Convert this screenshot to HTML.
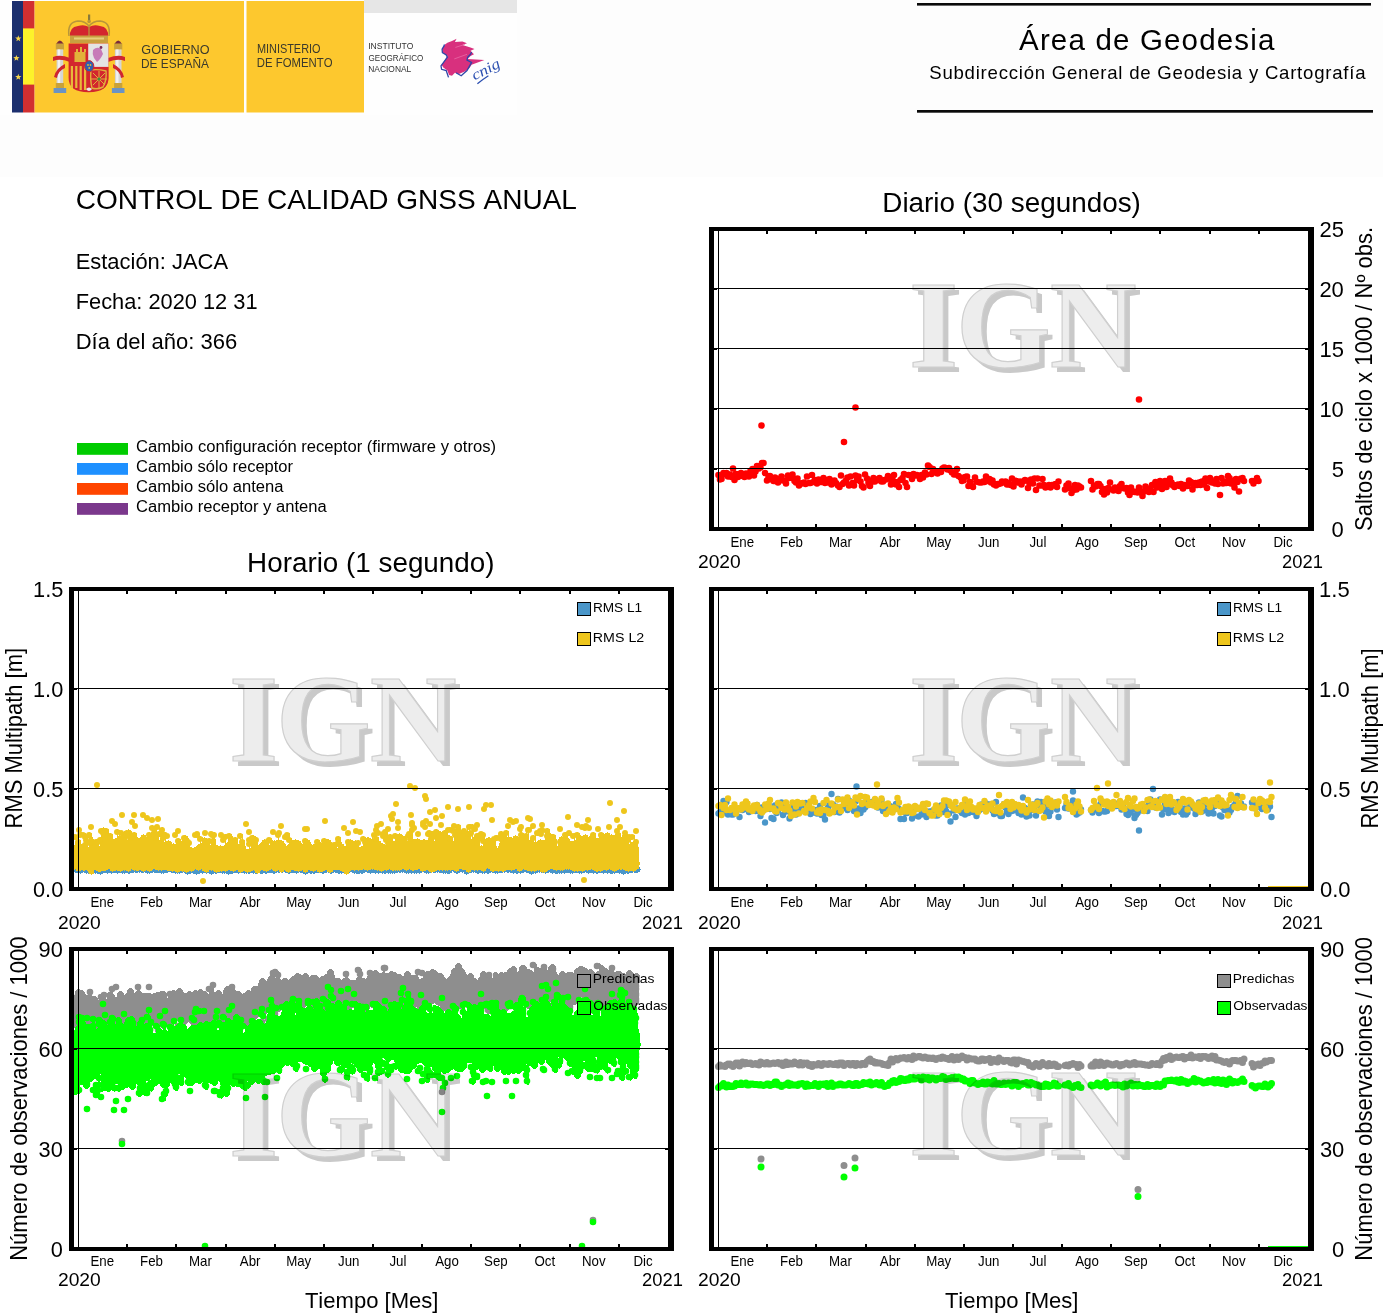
<!DOCTYPE html>
<html><head><meta charset="utf-8"><title>Control de calidad GNSS anual - JACA</title>
<style>
html,body{margin:0;padding:0;background:#fff;}
body{width:1383px;height:1313px;overflow:hidden;position:relative;}
svg{position:absolute;left:0;top:0;display:block;}
text{font-family:"Liberation Sans",Arial,sans-serif;font-kerning:none;}
.wm{mix-blend-mode:multiply;}
.wm text{font-family:"Liberation Serif","Times New Roman",serif;font-weight:bold;}
.cn{font-family:"Liberation Serif",serif;font-style:italic;}
</style></head><body>
<svg width="1383" height="1313" viewBox="0 0 1383 1313">
<rect width="1383" height="1313" fill="#fff"/>
<rect x="0" y="0" width="1383" height="177" fill="#fdfdfd"/>
<rect x="0" y="0" width="517" height="115" fill="#fefefe"/>
<rect x="364" y="0" width="153" height="13" fill="#e6e6e6"/>
<rect x="12" y="1" width="11" height="111.5" fill="#1c2f6e"/>
<rect x="23" y="1" width="11.6" height="111.5" fill="#d22f30"/>
<rect x="23" y="28.4" width="11.6" height="56.2" fill="#fdf22a"/>
<rect x="34.6" y="1" width="209.4" height="111.5" fill="#fdc82e"/>
<rect x="246.5" y="1" width="117.5" height="111.5" fill="#fdc82e"/>
<polygon points="18.30,35.30 19.11,37.48 21.44,37.58 19.62,39.03 20.24,41.27 18.30,39.99 16.36,41.27 16.98,39.03 15.16,37.58 17.49,37.48" fill="#f6d54a"/>
<polygon points="16.40,54.90 17.21,57.08 19.54,57.18 17.72,58.63 18.34,60.87 16.40,59.59 14.46,60.87 15.08,58.63 13.26,57.18 15.59,57.08" fill="#f6d54a"/>
<polygon points="18.30,73.70 19.11,75.88 21.44,75.98 19.62,77.43 20.24,79.67 18.30,78.39 16.36,79.67 16.98,77.43 15.16,75.98 17.49,75.88" fill="#f6d54a"/>
<path d="M56.1 44 Q59.9 37 63.7 44 Z" fill="#7a2a3a"/>
<rect x="55.800000000000004" y="43.5" width="8.2" height="6" fill="#c9a13a"/>
<rect x="56.6" y="49.5" width="6.6" height="34" fill="#d5d5d5"/>
<rect x="57.800000000000004" y="49.5" width="2.4" height="34" fill="#f1f1f1"/>
<rect x="55.800000000000004" y="83" width="8.2" height="5" fill="#c9a13a"/>
<rect x="53.6" y="88" width="12.6" height="5" fill="#6b93c4"/>
<path d="M114.4 44 Q118.2 37 122.0 44 Z" fill="#7a2a3a"/>
<rect x="114.10000000000001" y="43.5" width="8.2" height="6" fill="#c9a13a"/>
<rect x="114.9" y="49.5" width="6.6" height="34" fill="#d5d5d5"/>
<rect x="116.10000000000001" y="49.5" width="2.4" height="34" fill="#f1f1f1"/>
<rect x="114.10000000000001" y="83" width="8.2" height="5" fill="#c9a13a"/>
<rect x="111.9" y="88" width="12.6" height="5" fill="#6b93c4"/>
<path d="M53 57 Q60 54 70 58 L70 62 Q60 58 53 61 Z" fill="#cf2630"/>
<path d="M108 58 Q118 54 125 57 L125 61 Q118 58 108 62 Z" fill="#cf2630"/>
<path d="M54 77 Q56 68 65 64 L65 68 Q58 71 57 78 Z" fill="#cf2630"/>
<path d="M124 77 Q122 68 113 64 L113 68 Q120 71 121 78 Z" fill="#cf2630"/>
<path d="M70 37 Q69 27 78 26 Q84 24 89 27 Q94 24 100 26 Q109 27 108 37 Z" fill="#d3262e"/>
<path d="M69 36 Q67 22 78 21 Q85 21 89 26 Q93 21 100 21 Q111 22 109 36" fill="none" stroke="#b8963a" stroke-width="1.5"/>
<path d="M89 26 V36" stroke="#b8963a" stroke-width="1.3"/>
<rect x="70" y="35.5" width="38" height="7.5" fill="#c8a040"/>
<rect x="74" y="37.5" width="30" height="2" fill="#e7cf7a"/>
<rect x="88" y="14.5" width="2.2" height="7" fill="#8a7a3a"/>
<circle cx="89.1" cy="21.5" r="1.8" fill="#b8963a"/>
<path d="M68.6 43.6 H108.4 V78 Q108.4 92.2 88.5 92.2 Q68.6 92.2 68.6 78 Z" fill="#d3262e"/>
<rect x="88.2" y="43.6" width="20.2" height="23.3" fill="#e4e4e4"/>
<path d="M93 50 Q97 46 101 49 L103 54 Q100 60 97 62 L94 58 Q92 54 93 50 Z" fill="#c77ab8"/>
<circle cx="101" cy="47.5" r="1.4" fill="#7a2a5a"/>
<path d="M74.5 62 V52 H76 V49 H78 V52 H80 V47 H82 V52 H84 V49 H86 V52 H85.5 V62 Z" fill="#e2b13a"/>
<rect x="70.8" y="66" width="2.2" height="22" fill="#e8b83a"/>
<rect x="75.2" y="66" width="2.2" height="22" fill="#e8b83a"/>
<rect x="79.6" y="66" width="2.2" height="24" fill="#e8b83a"/>
<rect x="84.0" y="66" width="2.2" height="24" fill="#e8b83a"/>
<path d="M88.2 67 H108.4 V78 Q108.4 91 90 91.5 Z" fill="#d3262e"/>
<path d="M91 70 Q98 69 106 71 Q107 80 103 87 Q97 90 92 88 Q90 80 91 70 Z" fill="none" stroke="#e0b03c" stroke-width="1.4"/>
<path d="M93 73 L105 85 M105 73 L93 85 M99 71 V88 M91 79 H107" stroke="#e0b03c" stroke-width="1"/>
<circle cx="99" cy="79" r="1.5" fill="#3a9a3a"/>
<ellipse cx="89.2" cy="66.2" rx="4.6" ry="5.6" fill="#2f5fae" stroke="#d3262e" stroke-width="1"/>
<circle cx="88" cy="65" r="0.9" fill="#e4b63a"/><circle cx="90.5" cy="65" r="0.9" fill="#e4b63a"/><circle cx="89.2" cy="68" r="0.9" fill="#e4b63a"/>
<path d="M86 89 Q89 86 92 89 Q89 93 86 89 Z" fill="#e8e8e8"/>
<g fill="#3b3a2c" font-family="Liberation Sans" letter-spacing="0">
<text x="141.36" y="54.00" font-size="12.8" textLength="68.24" lengthAdjust="spacingAndGlyphs">GOBIERNO</text>
<text x="141.03" y="67.70" font-size="12.8" textLength="68.00" lengthAdjust="spacingAndGlyphs">DE ESPAÑA</text>
<text x="256.91" y="53.00" font-size="12.8" textLength="63.62" lengthAdjust="spacingAndGlyphs">MINISTERIO</text>
<text x="256.87" y="67.40" font-size="12.8" textLength="75.67" lengthAdjust="spacingAndGlyphs">DE FOMENTO</text>
</g>
<g fill="#333" font-family="Liberation Sans">
<text x="368.21" y="49.00" font-size="9.2" textLength="45.20" lengthAdjust="spacingAndGlyphs">INSTITUTO</text>
<text x="368.59" y="60.70" font-size="9.2" textLength="54.79" lengthAdjust="spacingAndGlyphs">GEOGRÁFICO</text>
<text x="368.31" y="71.90" font-size="9.2" textLength="42.97" lengthAdjust="spacingAndGlyphs">NACIONAL</text>
</g>
<polygon points="445.0,44.5 447.4,42.7 452.0,41.0 456.6,38.7 454.9,42.1 462.4,41.6 467.0,43.3 462.4,45.0 470.5,47.4 474.5,49.1 470.5,50.8 474.0,54.3 470.5,56.0 467.6,58.9 484.4,60.1 471.6,64.7 469.3,68.2 464.7,71.6 458.9,74.0 454.9,72.8 452.0,75.7 449.1,75.1 447.4,70.5 443.3,67.6 441.6,64.7 445.0,60.1 447.4,56.0 443.3,53.1 442.1,49.1 443.9,46.2" fill="#d8307e"/>
<polyline points="455.4,47.4 464.7,44.5" fill="none" stroke="#e86aa6" stroke-width="0.8"/>
<polyline points="454.3,58.9 467.0,54.3" fill="none" stroke="#e86aa6" stroke-width="0.8"/>
<polyline points="444.5,44.5 443.9,46.2 442.1,49.1 442.4,52.6 446.2,54.9 447.4,57.2 444.5,61.2 441.0,65.9 441.6,69.3 446.2,70.5 447.4,74.0 448.5,77.4" fill="none" stroke="#2f45a8" stroke-width="1.3"/>
<polyline points="456.0,72.8 461.2,75.7 467.0,70.5 471.6,62.4 467.0,60.1 467.6,57.2 470.5,54.3 471.6,52.0" fill="none" stroke="#2f45a8" stroke-width="1.3"/>
<text class="cn" x="0" y="0" font-size="15" fill="#2b4fb0" transform="translate(474.5 80.5) rotate(-27)" textLength="30" lengthAdjust="spacingAndGlyphs">cnig</text>
<path d="M477.4 83.8 Q482.1 79.7 488.4 75.7" stroke="#2b4fb0" stroke-width="1.3" fill="none"/>
<rect x="917" y="3" width="454" height="2.6" fill="#0a0a0a"/>
<rect x="917" y="110" width="456" height="2.7" fill="#0a0a0a"/>
<text x="1019.04" y="49.90" font-size="29.5" textLength="255.36" lengthAdjust="spacing">Área de Geodesia</text>
<text x="929.26" y="78.80" font-size="18.6" textLength="436.24" lengthAdjust="spacing">Subdirección General de Geodesia y Cartografía</text>
<g font-family="Liberation Sans" fill="#000">
<text x="75.68" y="209.10" font-size="28.5" textLength="501.25" lengthAdjust="spacingAndGlyphs">CONTROL DE CALIDAD GNSS ANUAL</text>
<text x="75.70" y="268.50" font-size="21.2" textLength="152.34" lengthAdjust="spacingAndGlyphs">Estación: JACA</text>
<text x="75.71" y="308.60" font-size="21.2" textLength="181.85" lengthAdjust="spacingAndGlyphs">Fecha: 2020 12 31</text>
<text x="75.69" y="348.80" font-size="21.2" textLength="161.57" lengthAdjust="spacingAndGlyphs">Día del año: 366</text>
<rect x="77" y="443" width="51" height="11.8" fill="#00cc00"/>
<text x="136.06" y="451.60" font-size="15.6" textLength="359.97" lengthAdjust="spacingAndGlyphs">Cambio configuración receptor (firmware y otros)</text>
<rect x="77" y="463" width="51" height="11.8" fill="#1e90ff"/>
<text x="136.06" y="471.60" font-size="15.6" textLength="157.01" lengthAdjust="spacingAndGlyphs">Cambio sólo receptor</text>
<rect x="77" y="483" width="51" height="11.8" fill="#ff4500"/>
<text x="136.06" y="491.60" font-size="15.6" textLength="147.44" lengthAdjust="spacingAndGlyphs">Cambio sólo antena</text>
<rect x="77" y="503" width="51" height="11.8" fill="#7b388c"/>
<text x="136.06" y="511.60" font-size="15.6" textLength="190.64" lengthAdjust="spacingAndGlyphs">Cambio receptor y antena</text>
</g>
<path d="M718.5 475h0M720 479.5h0M721.5 479h0M723.5 473h0M725 474h0M726.5 473h0M728 476.5h0M730 474.5h0M731.5 477h0M733 468.5h0M734.5 480h0M736 474h0M738 477h0M739.5 474h0M741 473h0M742.5 476h0M744.5 477h0M746 473.5h0M747.5 473.5h0M749 476.5h0M750.5 471h0M752.5 469h0M754 475.5h0M755.5 471.5h0M757 466h0M759 468.5h0M760.5 467.5h0M762 463h0M763.5 463h0M765 473h0M767 480.5h0M768.5 477.5h0M770 476h0M771.5 479.5h0M773.5 481h0M775 477.5h0M776.5 480.5h0M778 482.5h0M780 478.5h0M781.5 476.5h0M783 480.5h0M784.5 480.5h0M786 483.5h0M788 475.5h0M789.5 478h0M791 477.5h0M792.5 474.5h0M794.5 481h0M796 482.5h0M797.5 478.5h0M799 485.5h0M800.5 484h0M802.5 483h0M804 482.5h0M805.5 484h0M807 476.5h0M809 483h0M810.5 483h0M812 475h0M813.5 482h0M815 480h0M817 483.5h0M818.5 479.5h0M820 481h0M821.5 482h0M823.5 478h0M825 483h0M826.5 480.5h0M828 482.5h0M829.5 479h0M831.5 484.5h0M833 483h0M834.5 480.5h0M836 483h0M838 485.5h0M839.5 487h0M841 475.5h0M842.5 484h0M844 482.5h0M846 480.5h0M847.5 477.5h0M849 485.5h0M850.5 476.5h0M852.5 483h0M854 485.5h0M855.5 475.5h0M857 480h0M858.5 476.5h0M860.5 481.5h0M862 486h0M863.5 487.5h0M865 474.5h0M867 478.5h0M868.5 483h0M870 486h0M871.5 482h0M873.5 478h0M875 481.5h0M876.5 480.5h0M878 479.5h0M879.5 478h0M881.5 481.5h0M883 481.5h0M884.5 480h0M886 479.5h0M888 476h0M889.5 478.5h0M891 484.5h0M892.5 479.5h0M894 475h0M896 484.5h0M897.5 482h0M899 487h0M900.5 480h0M902.5 478h0M904 474h0M905.5 483h0M907 487h0M908.5 475h0M910.5 475.5h0M912 479h0M913.5 474h0M915 475.5h0M917 475h0M918.5 476h0M920 479h0M921.5 475h0M923 477.5h0M925 472.5h0M926.5 474.5h0M928 465.5h0M929.5 467h0M931.5 474h0M933 469h0M934.5 472h0M936 471.5h0M937.5 473.5h0M939.5 471h0M941 472h0M942.5 468.5h0M944 467.5h0M946 468h0M947.5 469.5h0M949 468h0M950.5 470.5h0M952 472.5h0M954 474.5h0M955.5 473.5h0M957 469h0M958.5 476h0M960.5 477.5h0M962 481h0M963.5 480.5h0M965 477h0M967 476.5h0M968.5 486h0M970 482h0M971.5 486h0M973 487h0M975 477.5h0M976.5 481.5h0M978 482h0M979.5 482.5h0M981.5 482.5h0M983 481.5h0M984.5 482h0M986 476.5h0M987.5 481h0M989.5 479h0M991 482.5h0M992.5 480.5h0M994 484.5h0M996 485.5h0M997.5 484h0M999 484h0M1000.5 483.5h0M1002 481.5h0M1004 482.5h0M1005.5 481.5h0M1007 484.5h0M1008.5 483h0M1010.5 485h0M1012 478.5h0M1013.5 486.5h0M1015 480.5h0M1016.5 481h0M1018.5 482.5h0M1020 481.5h0M1021.5 484.5h0M1023 481.5h0M1025 480h0M1026.5 480.5h0M1028 488h0M1029.5 483.5h0M1031 479.5h0M1033 483.5h0M1034.5 478.5h0M1036 490h0M1037.5 478.5h0M1039.5 485.5h0M1041 485.5h0M1042.5 479h0M1044 485h0M1045.5 487.5h0M1047.5 485.5h0M1049 485h0M1050.5 487.5h0M1052 485h0M1054 485.5h0M1055.5 484h0M1057 487h0M1058.5 481.5h0M1065 489.5h0M1066.5 485.5h0M1068.5 483.5h0M1070 488h0M1071.5 493h0M1073 490.5h0M1075 485h0M1076.5 489.5h0M1078 485.5h0M1079.5 486.5h0M1081 487.5h0M1091 481h0M1092.5 489.5h0M1094 485.5h0M1095.5 486.5h0M1097.5 484h0M1099 484h0M1100.5 486h0M1102 492h0M1104 494.5h0M1105.5 489h0M1107 492.5h0M1108.5 488h0M1110 482.5h0M1112 489.5h0M1113.5 490.5h0M1115 487.5h0M1116.5 490h0M1118.5 491h0M1120 486h0M1121.5 484h0M1123 488h0M1124.5 488.5h0M1126.5 488h0M1128 492.5h0M1129.5 495h0M1131 487.5h0M1133 491.5h0M1134.5 492h0M1136 491.5h0M1137.5 492.5h0M1139 487.5h0M1141 491.5h0M1142.5 496h0M1144 491.5h0M1145.5 486.5h0M1147.5 490.5h0M1149 492h0M1150.5 489h0M1152 485h0M1153.5 492h0M1155.5 482h0M1157 487.5h0M1158.5 485.5h0M1160 481h0M1162 489h0M1163.5 486h0M1165 481h0M1166.5 487h0M1168.5 483.5h0M1170 478.5h0M1171.5 482.5h0M1173 485.5h0M1174.5 487h0M1176.5 485h0M1178 484.5h0M1179.5 486h0M1181 484h0M1183 488.5h0M1184.5 485h0M1186 485.5h0M1187.5 486h0M1189 480.5h0M1191 482h0M1192.5 489.5h0M1194 485.5h0M1195.5 483h0M1197.5 485h0M1199 482.5h0M1200.5 485h0M1202 481.5h0M1203.5 484.5h0M1205.5 478.5h0M1207 488h0M1208.5 481.5h0M1210 478h0M1212 482.5h0M1213.5 482h0M1215 483.5h0M1216.5 479h0M1218 484h0M1220 495h0M1221.5 478h0M1223 483.5h0M1224.5 481.5h0M1226.5 483h0M1228 476h0M1229.5 478h0M1231 483.5h0M1232.5 481.5h0M1234.5 487.5h0M1236 479h0M1237.5 482h0M1239 491.5h0M1241 478.5h0M1242.5 478h0M1244 481h0M1252 481h0M1253.5 483.5h0M1255.5 481h0M1257 478h0M1258.5 481h0M761.5 425.5h0M844 442h0M855.5 407.5h0M1139 399.5h0" stroke="#ff0000" stroke-width="6.6" stroke-linecap="round" fill="none"/>
<g class="wm">
<text x="913.71" y="372.36" font-size="125" textLength="49.59" lengthAdjust="spacingAndGlyphs" fill="#c9c9c9">I</text>
<text x="961.05" y="372.36" font-size="125" textLength="94.78" lengthAdjust="spacingAndGlyphs" fill="#c9c9c9">G</text>
<text x="1054.71" y="372.36" font-size="125" textLength="86.88" lengthAdjust="spacingAndGlyphs" fill="#c9c9c9">N</text>
<text x="908.71" y="367.36" font-size="125" textLength="49.59" lengthAdjust="spacingAndGlyphs" fill="#ededed" stroke="#cfcfcf" stroke-width="1.2">I</text>
<text x="956.05" y="367.36" font-size="125" textLength="94.78" lengthAdjust="spacingAndGlyphs" fill="#ededed" stroke="#cfcfcf" stroke-width="1.2">G</text>
<text x="1049.71" y="367.36" font-size="125" textLength="86.88" lengthAdjust="spacingAndGlyphs" fill="#ededed" stroke="#cfcfcf" stroke-width="1.2">N</text>
</g>
<rect x="718" y="231" width="1" height="296" fill="#000"/>
<rect x="714" y="288" width="594" height="1" fill="#000"/>
<rect x="714" y="288" width="3" height="2" fill="#000"/>
<rect x="1305" y="288" width="3" height="2" fill="#000"/>
<rect x="714" y="348" width="594" height="1" fill="#000"/>
<rect x="714" y="348" width="3" height="2" fill="#000"/>
<rect x="1305" y="348" width="3" height="2" fill="#000"/>
<rect x="714" y="408" width="594" height="1" fill="#000"/>
<rect x="714" y="408" width="3" height="2" fill="#000"/>
<rect x="1305" y="408" width="3" height="2" fill="#000"/>
<rect x="714" y="468" width="594" height="1" fill="#000"/>
<rect x="714" y="468" width="3" height="2" fill="#000"/>
<rect x="1305" y="468" width="3" height="2" fill="#000"/>
<rect x="766" y="524" width="2" height="3" fill="#000"/>
<rect x="766" y="231" width="2" height="3" fill="#000"/>
<rect x="815" y="524" width="2" height="3" fill="#000"/>
<rect x="815" y="231" width="2" height="3" fill="#000"/>
<rect x="865" y="524" width="2" height="3" fill="#000"/>
<rect x="865" y="231" width="2" height="3" fill="#000"/>
<rect x="914" y="524" width="2" height="3" fill="#000"/>
<rect x="914" y="231" width="2" height="3" fill="#000"/>
<rect x="963" y="524" width="2" height="3" fill="#000"/>
<rect x="963" y="231" width="2" height="3" fill="#000"/>
<rect x="1012" y="524" width="2" height="3" fill="#000"/>
<rect x="1012" y="231" width="2" height="3" fill="#000"/>
<rect x="1061" y="524" width="2" height="3" fill="#000"/>
<rect x="1061" y="231" width="2" height="3" fill="#000"/>
<rect x="1110" y="524" width="2" height="3" fill="#000"/>
<rect x="1110" y="231" width="2" height="3" fill="#000"/>
<rect x="1159" y="524" width="2" height="3" fill="#000"/>
<rect x="1159" y="231" width="2" height="3" fill="#000"/>
<rect x="1209" y="524" width="2" height="3" fill="#000"/>
<rect x="1209" y="231" width="2" height="3" fill="#000"/>
<rect x="1258" y="524" width="2" height="3" fill="#000"/>
<rect x="1258" y="231" width="2" height="3" fill="#000"/>
<rect x="709" y="227" width="5" height="304" fill="#000"/>
<rect x="709" y="227" width="605" height="4" fill="#000"/>
<rect x="1308" y="227" width="6" height="304" fill="#000"/>
<rect x="709" y="527" width="605" height="4" fill="#000"/>
<g font-family="Liberation Sans">
<text x="730.50" y="547.00" font-size="14.3" textLength="23.66" lengthAdjust="spacingAndGlyphs">Ene</text>
<text x="780.03" y="547.00" font-size="14.3" textLength="22.92" lengthAdjust="spacingAndGlyphs">Feb</text>
<text x="829.03" y="547.00" font-size="14.3" textLength="22.90" lengthAdjust="spacingAndGlyphs">Mar</text>
<text x="879.83" y="547.00" font-size="14.3" textLength="20.70" lengthAdjust="spacingAndGlyphs">Abr</text>
<text x="926.16" y="547.00" font-size="14.3" textLength="25.12" lengthAdjust="spacingAndGlyphs">May</text>
<text x="978.02" y="547.00" font-size="14.3" textLength="21.44" lengthAdjust="spacingAndGlyphs">Jun</text>
<text x="1029.42" y="547.00" font-size="14.3" textLength="17.00" lengthAdjust="spacingAndGlyphs">Jul</text>
<text x="1075.18" y="547.00" font-size="14.3" textLength="23.66" lengthAdjust="spacingAndGlyphs">Ago</text>
<text x="1124.06" y="547.00" font-size="14.3" textLength="23.66" lengthAdjust="spacingAndGlyphs">Sep</text>
<text x="1174.47" y="547.00" font-size="14.3" textLength="20.69" lengthAdjust="spacingAndGlyphs">Oct</text>
<text x="1221.90" y="547.00" font-size="14.3" textLength="23.65" lengthAdjust="spacingAndGlyphs">Nov</text>
<text x="1273.44" y="547.00" font-size="14.3" textLength="19.21" lengthAdjust="spacingAndGlyphs">Dic</text>
<text x="697.93" y="567.60" font-size="19.2" textLength="42.82" lengthAdjust="spacingAndGlyphs">2020</text>
<text x="1282.08" y="567.60" font-size="19.2" textLength="40.82" lengthAdjust="spacingAndGlyphs">2021</text>
</g>
<g font-family="Liberation Sans">
<text x="1319.45" y="236.70" font-size="22" textLength="24.47" lengthAdjust="spacingAndGlyphs">25</text>
<text x="1319.39" y="296.70" font-size="22" textLength="24.47" lengthAdjust="spacingAndGlyphs">20</text>
<text x="1319.45" y="356.70" font-size="22" textLength="24.47" lengthAdjust="spacingAndGlyphs">15</text>
<text x="1319.39" y="416.70" font-size="22" textLength="24.47" lengthAdjust="spacingAndGlyphs">10</text>
<text x="1331.69" y="476.70" font-size="22" textLength="12.24" lengthAdjust="spacingAndGlyphs">5</text>
<text x="1331.62" y="536.70" font-size="22" textLength="12.24" lengthAdjust="spacingAndGlyphs">0</text>
</g>
<text x="882.31" y="211.80" font-size="27" textLength="258.61" lengthAdjust="spacingAndGlyphs">Diario (30 segundos)</text>
<g transform="translate(1372.00,530.00) rotate(-90)"><text x="-1.00" y="0.00" font-size="23.2" textLength="304.21" lengthAdjust="spacingAndGlyphs">Saltos de ciclo x 1000 / Nº obs.</text></g>
<path d="M74 855V855H75V856H76V856H77V858H78V858H79V857H80V855H81V855H82V847H83V855H84V848H85V853H86V852H87V859H88V853H89V857H90V857H91V856H92V855H93V855H94V854H95V854H96V855H97V855H98V860H99V860H100V859H101V859H102V858H103V858H104V857H105V858H106V857H107V858H108V858H109V859H110V857H111V857H112V856H113V857H114V857H115V859H116V859H117V857H118V857H119V856H120V856H121V856H122V855H123V856H124V856H125V857H126V857H127V856H128V855H129V855H130V854H131V855H132V855H133V856H134V855H135V856H136V856H137V856H138V855H139V856H140V856H141V857H142V856H143V857H144V857H145V858H146V858H147V858H148V858H149V857H150V858H151V858H152V859H153V858H154V858H155V859H156V857H157V857H158V856H159V857H160V857H161V859H162V860H163V859H164V857H165V857H166V856H167V857H168V857H169V856H170V856H171V855H172V856H173V856H174V857H175V857H176V857H177V858H178V858H179V858H180V857H181V857H182V856H183V857H184V857H185V858H186V858H187V857H188V857H189V856H190V857H191V857H192V859H193V858H194V859H195V859H196V858H197V859H198V858H199V856H200V856H201V855H202V856H203V856H204V858H205V857H206V857H207V855H208V855H209V854H210V855H211V855H212V860H213V859H214V860H215V859H216V859H217V858H218V857H219V857H220V856H221V857H222V857H223V859H224V853H225V853H226V852H227V853H228V853H229V855H230V856H231V856H232V857H233V857H234V859H235V861H236V859H237V859H238V858H239V852H240V851H241V852H242V852H243V854H244V858H245V857H246V858H247V858H248V859H249V855H250V855H251V854H252V855H253V855H254V855H255V856H256V856H257V858H258V857H259V858H260V858H261V853H262V853H263V852H264V853H265V853H266V858H267V859H268V860H269V859H270V859H271V858H272V859H273V859H274V858H275V859H276V858H277V858H278V857H279V858H280V858H281V858H282V857H283V857H284V856H285V856H286V855H287V856H288V856H289V858H290V857H291V858H292V857H293V857H294V856H295V855H296V853H297V853H298V852H299V853H300V859H301V854H302V854H303V853H304V854H305V854H306V856H307V857H308V857H309V858H310V858H311V857H312V858H313V852H314V852H315V851H316V852H317V852H318V858H319V858H320V857H321V858H322V858H323V858H324V856H325V856H326V855H327V856H328V856H329V858H330V858H331V859H332V858H333V856H334V856H335V855H336V856H337V856H338V855H339V856H340V856H341V857H342V858H343V856H344V856H345V855H346V856H347V856H348V857H349V856H350V857H351V857H352V858H353V852H354V852H355V851H356V852H357V852H358V860H359V860H360V861H361V861H362V860H363V860H364V859H365V858H366V856H367V856H368V855H369V856H370V856H371V855H372V856H373V856H374V858H375V857H376V857H377V857H378V856H379V856H380V857H381V857H382V857H383V857H384V856H385V857H386V857H387V857H388V855H389V855H390V854H391V855H392V854H393V859H394V860H395V851H396V852H397V852H398V854H399V855H400V860H401V859H402V857H403V857H404V856H405V857H406V856H407V857H408V857H409V858H410V859H411V858H412V858H413V857H414V858H415V857H416V857H417V858H418V856H419V856H420V855H421V855H422V853H423V853H424V852H425V853H426V853H427V858H428V859H429V859H430V855H431V855H432V854H433V855H434V855H435V859H436V858H437V859H438V859H439V852H440V860H441V852H442V860H443V859H444V860H445V860H446V860H447V852H448V859H449V852H450V851H451V851H452V850H453V851H454V851H455V852H456V851H457V858H458V858H459V859H460V859H461V859H462V859H463V858H464V858H465V857H466V857H467V851H468V850H469V857H470V857H471V858H472V858H473V850H474V851H475V851H476V853H477V854H478V853H479V854H480V860H481V856H482V856H483V855H484V856H485V856H486V855H487V856H488V856H489V857H490V858H491V857H492V857H493V856H494V857H495V857H496V856H497V857H498V857H499V856H500V857H501V856H502V854H503V852H504V852H505V851H506V852H507V852H508V857H509V856H510V857H511V856H512V857H513V857H514V858H515V859H516V859H517V860H518V860H519V859H520V857H521V855H522V855H523V854H524V855H525V855H526V855H527V856H528V856H529V857H530V856H531V857H532V856H533V857H534V857H535V857H536V856H537V857H538V857H539V858H540V857H541V858H542V858H543V859H544V858H545V858H546V857H547V858H548V858H549V859H550V859H551V860H552V858H553V856H554V854H555V854H556V853H557V854H558V854H559V856H560V857H561V856H562V857H563V857H564V859H565V859H566V858H567V859H568V858H569V859H570V851H571V850H572V851H573V851H574V852H575V858H576V858H577V860H578V861H579V854H580V853H581V851H582V851H583V850H584V851H585V851H586V855H587V856H588V856H589V857H590V856H591V857H592V857H593V856H594V857H595V857H596V855H597V853H598V853H599V852H600V853H601V853H602V858H603V858H604V858H605V857H606V858H607V858H608V860H609V860H610V860H611V858H612V858H613V857H614V858H615V858H616V856H617V854H618V854H619V852H620V852H621V851H622V852H623V852H624V853H625V854H626V854H627V856H628V858H629V858H630V858H631V859H632V859H633V859H634V857H635V857H636V856H637V857H638V857H639V867H640V869H641V870H640V872H639V872H638V873H637V873H636V873H635V873H634V872H633V873H632V873H631V873H630V873H629V874H628V874H627V873H626V874H625V874H624V875H623V874H622V874H621V873H620V874H619V873H618V873H617V873H616V873H615V874H614V873H613V874H612V874H611V874H610V873H609V873H608V874H607V873H606V873H605V873H604V874H603V873H602V873H601V873H600V873H599V873H598V874H597V874H596V873H595V873H594V874H593V873H592V873H591V873H590V873H589V874H588V873H587V873H586V872H585V873H584V873H583V873H582V874H581V873H580V874H579V873H578V873H577V873H576V873H575V873H574V873H573V874H572V873H571V874H570V873H569V873H568V873H567V873H566V873H565V874H564V873H563V873H562V874H561V873H560V874H559V873H558V874H557V874H556V874H555V873H554V873H553V874H552V873H551V873H550V872H549V873H548V873H547V873H546V874H545V873H544V873H543V872H542V873H541V872H540V873H539V872H538V873H537V873H536V874H535V873H534V874H533V874H532V875H531V874H530V874H529V873H528V873H527V873H526V872H525V872H524V873H523V873H522V873H521V874H520V873H519V873H518V874H517V874H516V873H515V873H514V874H513V873H512V873H511V873H510V872H509V873H508V873H507V872H506V872H505V873H504V872H503V873H502V873H501V873H500V873H499V873H498V874H497V873H496V874H495V873H494V873H493V873H492V872H491V873H490V873H489V874H488V874H487V873H486V873H485V874H484V873H483V874H482V873H481V873H480V873H479V874H478V874H477V873H476V873H475V872H474V873H473V872H472V873H471V873H470V873H469V874H468V874H467V875H466V874H465V874H464V872H463V873H462V872H461V872H460V873H459V873H458V874H457V874H456V873H455V873H454V872H453V871H452V873H451V873H450V874H449V874H448V874H447V873H446V874H445V873H444V874H443V873H442V873H441V873H440V873H439V872H438V873H437V872H436V873H435V873H434V873H433V872H432V873H431V873H430V873H429V874H428V873H427V874H426V873H425V873H424V872H423V872H422V873H421V873H420V874H419V873H418V873H417V874H416V873H415V874H414V873H413V873H412V874H411V873H410V873H409V874H408V873H407V874H406V873H405V873H404V872H403V873H402V872H401V873H400V873H399V872H398V873H397V873H396V873H395V874H394V873H393V874H392V873H391V874H390V873H389V874H388V873H387V873H386V874H385V874H384V873H383V874H382V873H381V873H380V873H379V874H378V873H377V873H376V874H375V873H374V873H373V873H372V873H371V874H370V873H369V873H368V873H367V872H366V872H365V873H364V873H363V874H362V874H361V873H360V874H359V874H358V874H357V874H356V873H355V874H354V873H353V873H352V872H351V872H350V873H349V873H348V873H347V873H346V873H345V873H344V873H343V873H342V874H341V873H340V874H339V874H338V873H337V873H336V873H335V872H334V873H333V873H332V874H331V874H330V873H329V873H328V872H327V873H326V873H325V873H324V874H323V874H322V873H321V873H320V873H319V873H318V873H317V873H316V873H315V874H314V874H313V873H312V874H311V874H310V873H309V873H308V874H307V874H306V875H305V874H304V874H303V873H302V873H301V873H300V872H299V873H298V873H297V874H296V873H295V873H294V873H293V873H292V873H291V873H290V874H289V874H288V873H287V873H286V873H285V872H284V872H283V873H282V872H281V872H280V873H279V873H278V872H277V873H276V873H275V874H274V874H273V873H272V873H271V873H270V873H269V873H268V873H267V874H266V874H265V873H264V873H263V874H262V874H261V874H260V873H259V873H258V873H257V874H256V874H255V873H254V874H253V873H252V873H251V873H250V874H249V874H248V873H247V874H246V873H245V874H244V873H243V873H242V873H241V873H240V873H239V874H238V873H237V873H236V873H235V873H234V873H233V874H232V874H231V874H230V874H229V875H228V874H227V874H226V873H225V874H224V873H223V874H222V873H221V873H220V873H219V873H218V873H217V874H216V874H215V873H214V874H213V874H212V875H211V874H210V874H209V873H208V873H207V874H206V873H205V873H204V873H203V874H202V873H201V873H200V874H199V874H198V874H197V875H196V874H195V874H194V874H193V873H192V873H191V874H190V874H189V874H188V875H187V874H186V874H185V873H184V872H183V873H182V873H181V873H180V874H179V873H178V874H177V873H176V874H175V873H174V873H173V873H172V873H171V872H170V872H169V872H168V873H167V873H166V873H165V873H164V874H163V873H162V874H161V873H160V873H159V873H158V873H157V873H156V873H155V873H154V872H153V873H152V873H151V873H150V874H149V873H148V874H147V873H146V873H145V872H144V873H143V873H142V873H141V872H140V873H139V872H138V873H137V873H136V873H135V872H134V873H133V873H132V873H131V873H130V874H129V874H128V873H127V873H126V873H125V874H124V873H123V874H122V873H121V873H120V873H119V873H118V874H117V873H116V873H115V873H114V873H113V873H112V874H111V873H110V873H109V873H108V874H107V873H106V873H105V873H104V873H103V874H102V874H101V875H100V874H99V874H98V874H97V873H96V874H95V873H94V874H93V873H92V873H91V873H90V873H89V874H88V873H87V874H86V873H85V873H84V872H83V873H82V873H81V874H80V873H79V873H78V873H77V873H76V873H75V872H74Z" fill="#4a96c9" shape-rendering="crispEdges"/>
<path d="M75 867h0m0 2h0m0 -4h0m-1 -7h0m1 5h0m-1 4h0m1 -6h0m-1 -2h0m8 -9h0m4 5h0m9 2h0m114 0h0m17 -2h0m14 -1h0m1 2h0m10 1h0m12 -2h0m35 0h0m17 -1h0m40 0h0m0 4h0m35 -1h0m5 -3h0m2 3h0m17 -5h0m10 3h0m8 2h0m7 -2h0m2 0h0m6 0h0m3 -1h0m6 0h0m12 -1h0m5 0h0m5 3h0m15 -5h0m12 3h0m9 -1h0m35 1h0m22 -1h0m1 1h0m9 2h0m2 -3h0m16 2h0m37 7h0m0 3h0m0 -5h0m0 -1h0" stroke="#4a96c9" stroke-width="6.0" stroke-linecap="round" fill="none"/>
<path d="M74 845V845H75V842H76V835H77V835H78V839H79V840H80V840H81V844H82V844H83V843H84V833H85V833H86V835H87V833H88V847H89V832H90V833H91V833H92V837H93V839H94V840H95V840H96V839H97V840H98V838H99V846H100V837H101V828H102V828H103V827H104V828H105V828H106V828H107V829H108V829H109V834H110V833H111V834H112V834H113V839H114V839H115V838H116V838H117V829H118V836H119V830H120V836H121V834H122V832H123V832H124V831H125V831H126V830H127V840H128V829H129V830H130V830H131V831H132V833H133V833H134V832H135V833H136V833H137V837H138V838H139V838H140V837H141V835H142V835H143V834H144V835H145V835H146V837H147V833H148V833H149V832H150V833H151V832H152V825H153V826H154V826H155V825H156V825H157V832H158V832H159V840H160V838H161V828H162V827H163V828H164V842H165V832H166V841H167V841H168V840H169V841H170V841H171V842H172V844H173V843H174V844H175V844H176V839H177V839H178V838H179V839H180V839H181V841H182V836H183V836H184V835H185V835H186V836H187V836H188V838H189V840H190V847H191V847H192V848H193V848H194V847H195V847H196V846H197V845H198V844H199V844H200V836H201V843H202V837H203V838H204V837H205V838H206V838H207V839H208V839H209V838H210V845H211V839H212V832H213V832H214V832H215V839H216V845H217V845H218V846H219V846H220V845H221V846H222V846H223V846H224V845H225V834H226V843H227V842H228V834H229V833H230V834H231V834H232V836H233V838H234V838H235V837H236V838H237V838H238V844H239V844H240V833H241V840H242V834H243V840H244V840H245V846H246V849H247V849H248V849H249V837H250V848H251V836H252V835H253V835H254V836H255V836H256V837H257V838H258V845H259V844H260V843H261V842H262V840H263V840H264V839H265V840H266V839H267V838H268V838H269V845H270V838H271V838H272V840H273V841H274V840H275V841H276V840H277V840H278V831H279V840H280V840H281V840H282V841H283V841H284V843H285V844H286V846H287V845H288V844H289V833H290V838H291V838H292V840H293V840H294V840H295V839H296V840H297V840H298V840H299V841H300V841H301V843H302V844H303V839H304V839H305V838H306V839H307V839H308V840H309V840H310V842H311V844H312V845H313V844H314V844H315V840H316V840H317V839H318V840H319V840H320V842H321V843H322V839H323V839H324V838H325V839H326V839H327V839H328V839H329V840H330V840H331V842H332V843H333V843H334V842H335V842H336V837H337V848H338V836H339V837H340V837H341V842H342V844H343V844H344V846H345V846H346V840H347V840H348V839H349V840H350V839H351V840H352V840H353V841H354V841H355V840H356V841H357V841H358V840H359V847H360V847H361V846H362V846H363V836H364V837H365V837H366V838H367V837H368V837H369V838H370V838H371V839H372V833H373V839H374V828H375V828H376V827H377V837H378V837H379V841H380V841H381V843H382V843H383V844H384V844H385V845H386V827H387V827H388V835H389V835H390V834H391V835H392V835H393V841H394V841H395V833H396V834H397V834H398V834H399V833H400V834H401V834H402V835H403V836H404V836H405V836H406V834H407V841H408V832H409V830H410V828H411V828H412V820H413V839H414V839H415V839H416V839H417V838H418V839H419V839H420V840H421V840H422V840H423V839H424V839H425V840H426V840H427V840H428V839H429V830H430V831H431V831H432V832H433V832H434V841H435V830H436V829H437V830H438V830H439V831H440V831H441V832H442V831H443V831H444V830H445V830H446V828H447V828H448V835H449V835H450V836H451V836H452V837H453V841H454V829H455V829H456V825H457V825H458V824H459V825H460V825H461V830H462V829H463V830H464V830H465V831H466V831H467V825H468V831H469V824H470V831H471V839H472V824H473V837H474V836H475V834H476V834H477V833H478V834H479V832H480V846H481V845H482V846H483V832H484V833H485V839H486V838H487V838H488V837H489V837H490V838H491V838H492V837H493V837H494V836H495V836H496V846H497V848H498V846H499V843H500V832H501V831H502V832H503V832H504V831H505V831H506V830H507V837H508V831H509V837H510V837H511V837H512V838H513V836H514V836H515V835H516V836H517V836H518V837H519V833H520V825H521V824H522V833H523V833H524V834H525V834H526V828H527V834H528V827H529V840H530V838H531V836H532V836H533V835H534V842H535V831H536V842H537V841H538V840H539V840H540V839H541V840H542V840H543V840H544V840H545V829H546V829H547V828H548V829H549V829H550V833H551V834H552V834H553V834H554V835H555V835H556V839H557V846H558V839H559V837H560V837H561V836H562V837H563V833H564V833H565V832H566V833H567V831H568V838H569V839H570V841H571V841H572V841H573V841H574V833H575V840H576V833H577V832H578V833H579V833H580V835H581V836H582V836H583V835H584V835H585V834H586V835H587V835H588V837H589V836H590V835H591V833H592V833H593V832H594V833H595V833H596V838H597V838H598V838H599V833H600V833H601V832H602V833H603V833H604V834H605V833H606V833H607V832H608V833H609V833H610V835H611V834H612V835H613V835H614V835H615V834H616V833H617V833H618V832H619V833H620V833H621V837H622V835H623V834H624V834H625V833H626V834H627V834H628V835H629V844H630V835H631V842H632V842H633V841H634V835H635V840H636V839H637V840H638V847H639V862H640V865H639V869H638V869H637V870H636V871H635V871H634V872H633V871H632V871H631V871H630V871H629V872H628V871H627V871H626V871H625V870H624V870H623V869H622V870H621V870H620V869H619V870H618V870H617V871H616V871H615V872H614V871H613V871H612V870H611V870H610V869H609V870H608V870H607V871H606V870H605V870H604V870H603V871H602V871H601V872H600V871H599V871H598V872H597V872H596V871H595V871H594V870H593V870H592V869H591V870H590V870H589V870H588V871H587V870H586V870H585V871H584V871H583V872H582V871H581V871H580V871H579V871H578V872H577V871H576V871H575V872H574V871H573V871H572V870H571V870H570V869H569V870H568V869H567V870H566V869H565V870H564V870H563V871H562V870H561V871H560V870H559V870H558V870H557V871H556V870H555V870H554V870H553V869H552V869H551V869H550V870H549V870H548V871H547V872H546V872H545V873H544V872H543V873H542V872H541V872H540V870H539V871H538V870H537V871H536V871H535V872H534V871H533V871H532V872H531V871H530V871H529V871H528V871H527V870H526V870H525V870H524V869H523V870H522V871H521V871H520V872H519V871H518V871H517V869H516V869H515V870H514V870H513V870H512V871H511V870H510V870H509V870H508V870H507V870H506V871H505V871H504V872H503V872H502V871H501V871H500V871H499V872H498V871H497V871H496V871H495V871H494V872H493V872H492V871H491V871H490V869H489V869H488V868H487V869H486V871H485V871H484V872H483V871H482V871H481V870H480V870H479V870H478V871H477V870H476V870H475V871H474V870H473V870H472V870H471V872H470V872H469V873H468V872H467V872H466V870H465V870H464V870H463V870H462V869H461V869H460V869H459V871H458V871H457V872H456V871H455V871H454V870H453V870H452V870H451V871H450V870H449V870H448V871H447V870H446V871H445V870H444V870H443V871H442V870H441V870H440V871H439V870H438V870H437V871H436V871H435V872H434V872H433V872H432V873H431V872H430V872H429V871H428V870H427V870H426V871H425V871H424V871H423V872H422V871H421V871H420V869H419V869H418V870H417V870H416V870H415V870H414V871H413V871H412V870H411V870H410V869H409V870H408V870H407V871H406V870H405V870H404V869H403V869H402V870H401V870H400V871H399V870H398V871H397V870H396V871H395V870H394V871H393V871H392V870H391V870H390V869H389V870H388V870H387V871H386V870H385V870H384V871H383V871H382V872H381V871H380V871H379V870H378V871H377V870H376V870H375V870H374V869H373V870H372V869H371V870H370V870H369V870H368V871H367V870H366V870H365V870H364V869H363V870H362V870H361V870H360V870H359V871H358V870H357V870H356V870H355V871H354V870H353V870H352V870H351V871H350V872H349V874H348V874H347V875H346V874H345V874H344V872H343V872H342V871H341V871H340V870H339V870H338V870H337V870H336V870H335V870H334V870H333V872H332V872H331V873H330V873H329V872H328V872H327V870H326V870H325V871H324V871H323V872H322V872H321V872H320V873H319V872H318V872H317V870H316V871H315V871H314V872H313V871H312V871H311V871H310V870H309V870H308V872H307V872H306V873H305V872H304V872H303V870H302V871H301V871H300V871H299V872H298V871H297V871H296V871H295V871H294V870H293V870H292V870H291V872H290V872H289V873H288V872H287V872H286V871H285V870H284V872H283V872H282V873H281V872H280V872H279V870H278V871H277V871H276V872H275V871H274V871H273V870H272V869H271V870H270V870H269V871H268V871H267V872H266V871H265V871H264V871H263V870H262V870H261V871H260V873H259V873H258V874H257V873H256V873H255V871H254V870H253V871H252V871H251V872H250V872H249V872H248V873H247V872H246V872H245V871H244V871H243V872H242V872H241V873H240V872H239V872H238V870H237V870H236V871H235V871H234V872H233V871H232V871H231V871H230V870H229V870H228V871H227V871H226V872H225V871H224V871H223V871H222V872H221V871H220V872H219V872H218V872H217V873H216V872H215V872H214V871H213V870H212V871H211V870H210V870H209V872H208V872H207V873H206V872H205V872H204V871H203V871H202V869H201V870H200V870H199V871H198V870H197V870H196V869H195V870H194V871H193V871H192V872H191V871H190V871H189V872H188V872H187V873H186V872H185V872H184V871H183V872H182V871H181V871H180V872H179V872H178V873H177V872H176V872H175V871H174V871H173V872H172V871H171V871H170V871H169V871H168V871H167V870H166V870H165V870H164V870H163V870H162V871H161V870H160V870H159V871H158V870H157V870H156V870H155V869H154V869H153V870H152V871H151V871H150V872H149V871H148V871H147V870H146V871H145V871H144V872H143V871H142V871H141V870H140V870H139V871H138V871H137V871H136V870H135V871H134V870H133V870H132V869H131V871H130V871H129V872H128V871H127V871H126V870H125V871H124V870H123V871H122V871H121V872H120V871H119V871H118V871H117V870H116V871H115V871H114V871H113V872H112V871H111V871H110V869H109V869H108V870H107V870H106V871H105V871H104V871H103V871H102V871H101V872H100V872H99V872H98V871H97V871H96V870H95V870H94V874H93V874H92V875H91V874H90V874H89V872H88V871H87V870H86V870H85V871H84V871H83V870H82V870H81V871H80V871H79V872H78V871H77V871H76V869H75V870H74Z" fill="#eec61c" shape-rendering="crispEdges"/>
<path d="M75 861h0m-1 4h0m0 -7h0m1 4h0m0 -10h0m-1 5h0m1 -20h0m0 16h0m-1 7h0m1 -12h0m-1 14h0m0 4h0m4 -24h0m2 -7h0m3 0h0m3 5h0m-1 5h0m0 -8h0m5 6h0m-1 -8h0m2 36h0m0 -44h0m5 15h0m2 0h0m2 -2h0m1 -9h0m5 0h0m4 6h0m0 -1h0m5 -12h0m2 8h0m5 -17h0m3 20h0m2 -2h0m3 5h0m4 -3h0m1 -9h0m12 -8h0m2 17h0m3 -7h0m0 -8h0m2 10h0m2 8h0m1 -11h0m2 7h0m-1 -15h0m4 11h0m1 8h0m2 -3h0m2 1h0m11 -5h0m0 10h0m6 -3h0m4 4h0m1 1h0m6 -8h0m2 -1h0m3 5h0m5 -6h0m4 8h0m3 -6h0m1 6h0m-2 -7h0m2 8h0m1 -7h0m9 5h0m2 -3h0m-1 1h0m5 -2h0m6 4h0m5 -4h0m2 6h0m7 -2h0m0 4h0m3 -6h0m4 2h0m12 1h0m1 -1h0m4 -8h0m6 1h0m-1 2h0m3 -9h0m4 11h0m2 -2h0m2 5h0m16 1h0m12 1h0m7 -1h0m10 4h0m4 -6h0m0 4h0m0 1h0m10 -11h0m0 9h0m10 1h0m2 -11h0m3 7h0m2 3h0m9 -7h0m2 4h0m0 -9h0m5 -6h0m2 10h0m0 2h0m2 -4h0m0 5h0m1 3h0m2 -11h0m2 10h0m-2 4h0m2 -6h0m0 1h0m5 -2h0m3 -8h0m11 6h0m-1 2h0m2 3h0m0 -3h0m2 -6h0m0 -7h0m2 5h0m4 6h0m5 -9h0m0 -2h0m2 4h0m1 -6h0m-1 -25h0m4 37h0m-1 1h0m3 0h0m0 5h0m2 -2h0m1 -3h0m1 -24h0m1 22h0m5 -7h0m4 8h0m3 -3h0m2 9h0m1 -9h0m2 1h0m2 4h0m3 -8h0m11 0h0m1 7h0m2 -7h0m-1 6h0m4 -4h0m2 8h0m0 -12h0m0 18h0m0 -7h0m2 2h0m3 1h0m-1 -5h0m1 3h0m1 4h0m0 -6h0m1 -26h0m2 -4h0m6 15h0m2 19h0m2 -1h0m1 0h0m4 -4h0m0 5h0m5 -6h0m2 -7h0m2 -6h0m3 2h0m3 -1h0m4 8h0m1 -2h0m0 8h0m5 1h0m2 -18h0m0 12h0m1 0h0m4 -4h0m0 12h0m4 -5h0m3 -2h0m-2 2h0m3 1h0m1 -4h0m5 1h0m0 5h0m6 1h0m2 5h0m10 -7h0m3 -18h0m1 16h0m4 3h0m4 -1h0m8 -7h0m1 -2h0m2 -6h0m1 8h0m4 7h0m8 0h0m8 -8h0m1 -24h0m8 32h0m-1 -15h0m3 7h0m4 -16h0m3 28h0m1 1h0m1 -3h0m3 0h0m4 5h0m0 -11h0m0 20h0m0 1h0m0 14h0m0 -17h0m0 9h0m0 -3h0" stroke="#eec61c" stroke-width="6.0" stroke-linecap="round" fill="none"/>
<path d="M97 785h0m106 96h0m381 -1h0m-505 -50h0m33 -9h0m-9 12h0m31 -18h0m-2 7h0m11 -7h0m-65 29h0m43 -11h0m54 2h0m22 0h0m24 0h0m25 -11h0m3 8h0m56 -3h0m2 0h0m18 -8h0m19 7h0m12 3h0m-3 -9h0m57 -36h0m5 2h0m11 11h0m-30 5h0m-3 10h0m-2 2h0m1 3h0m6 3h0m13 -7h0m1 10h0m18 -13h0m0 12h0m6 -6h0m6 -2h0m6 -9h0m10 2h0m11 -2h0m22 -2h0m-37 21h0m10 5h0m66 -12h0m12 6h0m35 0h0m5 2h0m-205 -1h0m1 7h0m239 -2h0m8 2h0m-27 -4h0m-38 0h0" stroke="#eec61c" stroke-width="6.0" stroke-linecap="round" fill="none"/>
<g class="wm">
<text x="233.71" y="765.66" font-size="125" textLength="49.59" lengthAdjust="spacingAndGlyphs" fill="#c9c9c9">I</text>
<text x="281.05" y="765.66" font-size="125" textLength="94.78" lengthAdjust="spacingAndGlyphs" fill="#c9c9c9">G</text>
<text x="374.71" y="765.66" font-size="125" textLength="86.88" lengthAdjust="spacingAndGlyphs" fill="#c9c9c9">N</text>
<text x="228.71" y="760.66" font-size="125" textLength="49.59" lengthAdjust="spacingAndGlyphs" fill="#ededed" stroke="#cfcfcf" stroke-width="1.2">I</text>
<text x="276.05" y="760.66" font-size="125" textLength="94.78" lengthAdjust="spacingAndGlyphs" fill="#ededed" stroke="#cfcfcf" stroke-width="1.2">G</text>
<text x="369.71" y="760.66" font-size="125" textLength="86.88" lengthAdjust="spacingAndGlyphs" fill="#ededed" stroke="#cfcfcf" stroke-width="1.2">N</text>
</g>
<rect x="78" y="591" width="1" height="296" fill="#000"/>
<rect x="74" y="688" width="594" height="1" fill="#000"/>
<rect x="74" y="688" width="3" height="2" fill="#000"/>
<rect x="665" y="688" width="3" height="2" fill="#000"/>
<rect x="74" y="788" width="594" height="1" fill="#000"/>
<rect x="74" y="788" width="3" height="2" fill="#000"/>
<rect x="665" y="788" width="3" height="2" fill="#000"/>
<rect x="126" y="884" width="2" height="3" fill="#000"/>
<rect x="126" y="591" width="2" height="3" fill="#000"/>
<rect x="175" y="884" width="2" height="3" fill="#000"/>
<rect x="175" y="591" width="2" height="3" fill="#000"/>
<rect x="225" y="884" width="2" height="3" fill="#000"/>
<rect x="225" y="591" width="2" height="3" fill="#000"/>
<rect x="274" y="884" width="2" height="3" fill="#000"/>
<rect x="274" y="591" width="2" height="3" fill="#000"/>
<rect x="323" y="884" width="2" height="3" fill="#000"/>
<rect x="323" y="591" width="2" height="3" fill="#000"/>
<rect x="372" y="884" width="2" height="3" fill="#000"/>
<rect x="372" y="591" width="2" height="3" fill="#000"/>
<rect x="421" y="884" width="2" height="3" fill="#000"/>
<rect x="421" y="591" width="2" height="3" fill="#000"/>
<rect x="470" y="884" width="2" height="3" fill="#000"/>
<rect x="470" y="591" width="2" height="3" fill="#000"/>
<rect x="519" y="884" width="2" height="3" fill="#000"/>
<rect x="519" y="591" width="2" height="3" fill="#000"/>
<rect x="569" y="884" width="2" height="3" fill="#000"/>
<rect x="569" y="591" width="2" height="3" fill="#000"/>
<rect x="618" y="884" width="2" height="3" fill="#000"/>
<rect x="618" y="591" width="2" height="3" fill="#000"/>
<rect x="69" y="587" width="5" height="304" fill="#000"/>
<rect x="69" y="587" width="605" height="4" fill="#000"/>
<rect x="668" y="587" width="6" height="304" fill="#000"/>
<rect x="69" y="887" width="605" height="4" fill="#000"/>
<rect x="577.5" y="602.5" width="13" height="13" fill="#4a96c9" stroke="#000" stroke-width="1"/>
<rect x="577.5" y="632.5" width="13" height="13" fill="#eec61c" stroke="#000" stroke-width="1"/>
<text x="592.88" y="611.60" font-size="13.6" textLength="49.29" lengthAdjust="spacingAndGlyphs">RMS L1</text>
<text x="592.83" y="641.60" font-size="13.6" textLength="51.38" lengthAdjust="spacingAndGlyphs">RMS L2</text>
<g font-family="Liberation Sans">
<text x="90.50" y="907.00" font-size="14.3" textLength="23.66" lengthAdjust="spacingAndGlyphs">Ene</text>
<text x="140.03" y="907.00" font-size="14.3" textLength="22.92" lengthAdjust="spacingAndGlyphs">Feb</text>
<text x="189.03" y="907.00" font-size="14.3" textLength="22.90" lengthAdjust="spacingAndGlyphs">Mar</text>
<text x="239.83" y="907.00" font-size="14.3" textLength="20.70" lengthAdjust="spacingAndGlyphs">Abr</text>
<text x="286.16" y="907.00" font-size="14.3" textLength="25.12" lengthAdjust="spacingAndGlyphs">May</text>
<text x="338.02" y="907.00" font-size="14.3" textLength="21.44" lengthAdjust="spacingAndGlyphs">Jun</text>
<text x="389.42" y="907.00" font-size="14.3" textLength="17.00" lengthAdjust="spacingAndGlyphs">Jul</text>
<text x="435.18" y="907.00" font-size="14.3" textLength="23.66" lengthAdjust="spacingAndGlyphs">Ago</text>
<text x="484.06" y="907.00" font-size="14.3" textLength="23.66" lengthAdjust="spacingAndGlyphs">Sep</text>
<text x="534.47" y="907.00" font-size="14.3" textLength="20.69" lengthAdjust="spacingAndGlyphs">Oct</text>
<text x="581.90" y="907.00" font-size="14.3" textLength="23.65" lengthAdjust="spacingAndGlyphs">Nov</text>
<text x="633.44" y="907.00" font-size="14.3" textLength="19.21" lengthAdjust="spacingAndGlyphs">Dic</text>
<text x="57.93" y="928.70" font-size="19.2" textLength="42.82" lengthAdjust="spacingAndGlyphs">2020</text>
<text x="642.08" y="928.70" font-size="19.2" textLength="40.82" lengthAdjust="spacingAndGlyphs">2021</text>
</g>
<g font-family="Liberation Sans">
<text x="33.04" y="596.70" font-size="22" textLength="30.28" lengthAdjust="spacingAndGlyphs">1.5</text>
<text x="32.97" y="696.70" font-size="22" textLength="30.28" lengthAdjust="spacingAndGlyphs">1.0</text>
<text x="33.04" y="796.70" font-size="22" textLength="30.28" lengthAdjust="spacingAndGlyphs">0.5</text>
<text x="32.97" y="896.70" font-size="22" textLength="30.28" lengthAdjust="spacingAndGlyphs">0.0</text>
</g>
<text x="247.12" y="571.60" font-size="27" textLength="247.41" lengthAdjust="spacingAndGlyphs">Horario (1 segundo)</text>
<g transform="translate(21.90,826.60) rotate(-90)"><text x="-1.80" y="0.00" font-size="23.2" textLength="180.46" lengthAdjust="spacingAndGlyphs">RMS Multipath [m]</text></g>
<path d="M718.5 813.5h0M720 812h0M721.5 810.5h0M723.5 801h0M725 812.5h0M726.5 802h0M728 814.5h0M730 813.5h0M731.5 814.5h0M733 814.5h0M734.5 812h0M736 808.5h0M738 809.5h0M739.5 817h0M741 808.5h0M742.5 810h0M744.5 807.5h0M746 808.5h0M747.5 809.5h0M749 812h0M750.5 809.5h0M752.5 809h0M754 808h0M755.5 811h0M757 805h0M759 811h0M760.5 816h0M762 807.5h0M763.5 810.5h0M765 822.5h0M767 806.5h0M768.5 804h0M770 809h0M771.5 818h0M773.5 819h0M775 805.5h0M776.5 813h0M778 810.5h0M780 808h0M781.5 802.5h0M783 815h0M784.5 807h0M786 811.5h0M788 811h0M789.5 818.5h0M791 815.5h0M792.5 805.5h0M794.5 809.5h0M796 814.5h0M797.5 804.5h0M799 808.5h0M800.5 811.5h0M802.5 803.5h0M804 805h0M805.5 803h0M807 811.5h0M809 808h0M810.5 814h0M812 810.5h0M813.5 812.5h0M815 810h0M817 813.5h0M818.5 809.5h0M820 806h0M821.5 815h0M823.5 814.5h0M825 819.5h0M826.5 809.5h0M828 807.5h0M829.5 804h0M831.5 794h0M833 804.5h0M834.5 812h0M836 806.5h0M838 799h0M839.5 812.5h0M841 807h0M842.5 808h0M844 807h0M846 808h0M847.5 810h0M849 800.5h0M850.5 806h0M852.5 804.5h0M854 811h0M855.5 801.5h0M857 813h0M858.5 808.5h0M860.5 813h0M862 803h0M863.5 809.5h0M865 807.5h0M867 799.5h0M868.5 805h0M870 804h0M871.5 802h0M873.5 803h0M875 800h0M876.5 804h0M878 807.5h0M879.5 802.5h0M881.5 800h0M883 811h0M884.5 805.5h0M886 807.5h0M888 807h0M889.5 806h0M891 811.5h0M892.5 807h0M894 809.5h0M896 804h0M897.5 803.5h0M899 809h0M900.5 819h0M902.5 811.5h0M904 819h0M905.5 813h0M907 813h0M908.5 808.5h0M910.5 811h0M912 818.5h0M913.5 816h0M915 808h0M917 809h0M918.5 816.5h0M920 808.5h0M921.5 814.5h0M923 807h0M925 813.5h0M926.5 817h0M928 814h0M929.5 811.5h0M931.5 811.5h0M933 810.5h0M934.5 810.5h0M936 815.5h0M937.5 815.5h0M939.5 812.5h0M941 805.5h0M942.5 808.5h0M944 812h0M946 811h0M947.5 805h0M949 813.5h0M950.5 821.5h0M952 805.5h0M954 810.5h0M955.5 817h0M957 808.5h0M958.5 808.5h0M960.5 811h0M962 813h0M963.5 808.5h0M965 814.5h0M967 802.5h0M968.5 813h0M970 812h0M971.5 809.5h0M973 812h0M975 810.5h0M976.5 816h0M978 808.5h0M979.5 810h0M981.5 804.5h0M983 805.5h0M984.5 809h0M986 803.5h0M987.5 806.5h0M989.5 804.5h0M991 808h0M992.5 810.5h0M994 814h0M996 802h0M997.5 809h0M999 813.5h0M1000.5 816h0M1002 816h0M1004 804h0M1005.5 807.5h0M1007 812h0M1008.5 814h0M1010.5 811h0M1012 811h0M1013.5 810.5h0M1015 806.5h0M1016.5 810.5h0M1018.5 813h0M1020 808h0M1021.5 814.5h0M1023 797.5h0M1025 808h0M1026.5 816.5h0M1028 813h0M1029.5 815.5h0M1031 810h0M1033 804.5h0M1034.5 807h0M1036 815.5h0M1037.5 801.5h0M1039.5 805h0M1041 802h0M1042.5 807h0M1044 807.5h0M1045.5 811.5h0M1047.5 805.5h0M1049 816h0M1050.5 811.5h0M1052 807h0M1054 805h0M1055.5 802.5h0M1057 809.5h0M1058.5 817h0M1065 808h0M1066.5 804.5h0M1068.5 808.5h0M1070 806.5h0M1071.5 805h0M1073 800.5h0M1075 808.5h0M1076.5 814.5h0M1078 813.5h0M1079.5 812.5h0M1081 809.5h0M1091 810h0M1092.5 812.5h0M1094 808h0M1095.5 809.5h0M1097.5 806.5h0M1099 813h0M1100.5 804h0M1102 811h0M1104 811.5h0M1105.5 811.5h0M1107 811h0M1108.5 806h0M1110 805.5h0M1112 806.5h0M1113.5 806.5h0M1115 803.5h0M1116.5 806h0M1118.5 805.5h0M1120 804h0M1121.5 809.5h0M1123 805h0M1124.5 809h0M1126.5 814h0M1128 815h0M1129.5 808h0M1131 812.5h0M1133 809h0M1134.5 818h0M1136 815h0M1137.5 813h0M1139 807.5h0M1141 807h0M1142.5 810.5h0M1144 808h0M1145.5 807h0M1147.5 811h0M1149 803h0M1150.5 799.5h0M1152 804h0M1153.5 803h0M1155.5 807.5h0M1157 804.5h0M1158.5 807h0M1160 799.5h0M1162 814.5h0M1163.5 809.5h0M1165 804.5h0M1166.5 809.5h0M1168.5 813h0M1170 811.5h0M1171.5 807.5h0M1173 810.5h0M1174.5 812h0M1176.5 803h0M1178 802h0M1179.5 805.5h0M1181 812h0M1183 814.5h0M1184.5 808.5h0M1186 814.5h0M1187.5 812.5h0M1189 807.5h0M1191 805h0M1192.5 805.5h0M1194 808.5h0M1195.5 814h0M1197.5 811.5h0M1199 802.5h0M1200.5 803h0M1202 811.5h0M1203.5 809h0M1205.5 804h0M1207 810.5h0M1208.5 813.5h0M1210 811h0M1212 808h0M1213.5 813.5h0M1215 806h0M1216.5 805h0M1218 803.5h0M1220 815.5h0M1221.5 816.5h0M1223 807.5h0M1224.5 810h0M1226.5 809.5h0M1228 811.5h0M1229.5 812.5h0M1231 810h0M1232.5 807h0M1234.5 805h0M1236 803h0M1237.5 796h0M1239 806.5h0M1241 803.5h0M1242.5 807h0M1244 806.5h0M1252 802.5h0M1253.5 804.5h0M1255.5 808.5h0M1257 807h0M1258.5 802.5h0M1260 803h0M1262 809h0M1263.5 807.5h0M1265 807.5h0M1266.5 805.5h0M1268 809.5h0M1270 806.5h0M1271.5 817h0M1139 830.5h0M856.5 786.5h0M1073 791.5h0M1153 789h0" stroke="#4a96c9" stroke-width="6.4" stroke-linecap="round" fill="none"/>
<path d="M718.5 806h0M720 805h0M721.5 815h0M723.5 808h0M725 805h0M726.5 810h0M728 798.5h0M730 810h0M731.5 808h0M733 809h0M734.5 804.5h0M736 813.5h0M738 809.5h0M739.5 808h0M741 809.5h0M742.5 804.5h0M744.5 807.5h0M746 801.5h0M747.5 803.5h0M749 809.5h0M750.5 808.5h0M752.5 811h0M754 805.5h0M755.5 807.5h0M757 805h0M759 809h0M760.5 811.5h0M762 812.5h0M763.5 810.5h0M765 804.5h0M767 809h0M768.5 803.5h0M770 800h0M771.5 808.5h0M773.5 808.5h0M775 811h0M776.5 811.5h0M778 803h0M780 804h0M781.5 808h0M783 808.5h0M784.5 809.5h0M786 802.5h0M788 807h0M789.5 810.5h0M791 816h0M792.5 802.5h0M794.5 814.5h0M796 806.5h0M797.5 802h0M799 813.5h0M800.5 803.5h0M802.5 803h0M804 811h0M805.5 812.5h0M807 808h0M809 805h0M810.5 801.5h0M812 808.5h0M813.5 798h0M815 802h0M817 812.5h0M818.5 810.5h0M820 813h0M821.5 809.5h0M823.5 803h0M825 810h0M826.5 800h0M828 811h0M829.5 813.5h0M831.5 803.5h0M833 812h0M834.5 808h0M836 807h0M838 799.5h0M839.5 807h0M841 811h0M842.5 799.5h0M844 804h0M846 802h0M847.5 797.5h0M849 808h0M850.5 803h0M852.5 802h0M854 805.5h0M855.5 797.5h0M857 814.5h0M858.5 799h0M860.5 796h0M862 804h0M863.5 803h0M865 797h0M867 797.5h0M868.5 805h0M870 802.5h0M871.5 803.5h0M873.5 805.5h0M875 799h0M876.5 807h0M878 802h0M879.5 805h0M881.5 798.5h0M883 806h0M884.5 804.5h0M886 814h0M888 803.5h0M889.5 811h0M891 808h0M892.5 812.5h0M894 807.5h0M896 809h0M897.5 798h0M899 802.5h0M900.5 812.5h0M902.5 810h0M904 811.5h0M905.5 807h0M907 811.5h0M908.5 806.5h0M910.5 807.5h0M912 813h0M913.5 812.5h0M915 806h0M917 808h0M918.5 809h0M920 807.5h0M921.5 807.5h0M923 804h0M925 810h0M926.5 803.5h0M928 804h0M929.5 813h0M931.5 815.5h0M933 815.5h0M934.5 809h0M936 805.5h0M937.5 811h0M939.5 814h0M941 808h0M942.5 806h0M944 800.5h0M946 800.5h0M947.5 815h0M949 801.5h0M950.5 805h0M952 806.5h0M954 808.5h0M955.5 802h0M957 810h0M958.5 810h0M960.5 807.5h0M962 805h0M963.5 806h0M965 799.5h0M967 810h0M968.5 805h0M970 801.5h0M971.5 807h0M973 809.5h0M975 808.5h0M976.5 810h0M978 812h0M979.5 805h0M981.5 808h0M983 808h0M984.5 801h0M986 811.5h0M987.5 805.5h0M989.5 808h0M991 808.5h0M992.5 803.5h0M994 810.5h0M996 811h0M997.5 807.5h0M999 795h0M1000.5 812.5h0M1002 806h0M1004 804h0M1005.5 804.5h0M1007 802h0M1008.5 805h0M1010.5 809h0M1012 802h0M1013.5 807.5h0M1015 804h0M1016.5 805.5h0M1018.5 805h0M1020 807.5h0M1021.5 810.5h0M1023 806h0M1025 810h0M1026.5 812.5h0M1028 800h0M1029.5 809.5h0M1031 804.5h0M1033 805h0M1034.5 810h0M1036 805h0M1037.5 803h0M1039.5 811h0M1041 810h0M1042.5 807.5h0M1044 817.5h0M1045.5 801.5h0M1047.5 798.5h0M1049 804.5h0M1050.5 800.5h0M1052 807h0M1054 803h0M1055.5 803h0M1057 805.5h0M1058.5 801.5h0M1065 797h0M1066.5 802h0M1068.5 808h0M1070 806h0M1071.5 809h0M1073 812h0M1075 808.5h0M1076.5 804.5h0M1078 801.5h0M1079.5 806.5h0M1081 811.5h0M1091 810h0M1092.5 808h0M1094 801h0M1095.5 806.5h0M1097.5 807h0M1099 809h0M1100.5 798.5h0M1102 801h0M1104 804.5h0M1105.5 804.5h0M1107 801.5h0M1108.5 806h0M1110 803h0M1112 808.5h0M1113.5 802h0M1115 805h0M1116.5 795h0M1118.5 805h0M1120 801h0M1121.5 807h0M1123 803.5h0M1124.5 809h0M1126.5 802h0M1128 798h0M1129.5 805h0M1131 806.5h0M1133 801h0M1134.5 798.5h0M1136 807h0M1137.5 808.5h0M1139 807h0M1141 804.5h0M1142.5 804h0M1144 811h0M1145.5 807.5h0M1147.5 800h0M1149 799.5h0M1150.5 806.5h0M1152 807h0M1153.5 801.5h0M1155.5 801h0M1157 808h0M1158.5 802.5h0M1160 807.5h0M1162 799.5h0M1163.5 800h0M1165 797h0M1166.5 804h0M1168.5 802.5h0M1170 797h0M1171.5 804.5h0M1173 802h0M1174.5 803h0M1176.5 810h0M1178 808h0M1179.5 806h0M1181 802.5h0M1183 799h0M1184.5 801.5h0M1186 802.5h0M1187.5 809.5h0M1189 800h0M1191 801.5h0M1192.5 804h0M1194 805.5h0M1195.5 808.5h0M1197.5 809.5h0M1199 803.5h0M1200.5 812h0M1202 807h0M1203.5 800.5h0M1205.5 800h0M1207 802h0M1208.5 803h0M1210 807h0M1212 800.5h0M1213.5 801.5h0M1215 800h0M1216.5 805h0M1218 797.5h0M1220 806h0M1221.5 800.5h0M1223 803h0M1224.5 805.5h0M1226.5 805h0M1228 815.5h0M1229.5 800h0M1231 795h0M1232.5 798h0M1234.5 807h0M1236 799h0M1237.5 808h0M1239 802.5h0M1241 806.5h0M1242.5 797h0M1244 807.5h0M1252 808h0M1253.5 799.5h0M1255.5 808.5h0M1257 814h0M1258.5 803h0M1260 799h0M1262 800.5h0M1263.5 802h0M1265 807.5h0M1266.5 810.5h0M1268 801.5h0M1270 802h0M1271.5 797h0M1270 782.5h0M877 784.5h0M1108 783.5h0M1097 788h0" stroke="#eec61c" stroke-width="6.4" stroke-linecap="round" fill="none"/>
<rect x="1268" y="886" width="40" height="1" fill="#eec61c"/>
<g class="wm">
<text x="913.71" y="765.66" font-size="125" textLength="49.59" lengthAdjust="spacingAndGlyphs" fill="#c9c9c9">I</text>
<text x="961.05" y="765.66" font-size="125" textLength="94.78" lengthAdjust="spacingAndGlyphs" fill="#c9c9c9">G</text>
<text x="1054.71" y="765.66" font-size="125" textLength="86.88" lengthAdjust="spacingAndGlyphs" fill="#c9c9c9">N</text>
<text x="908.71" y="760.66" font-size="125" textLength="49.59" lengthAdjust="spacingAndGlyphs" fill="#ededed" stroke="#cfcfcf" stroke-width="1.2">I</text>
<text x="956.05" y="760.66" font-size="125" textLength="94.78" lengthAdjust="spacingAndGlyphs" fill="#ededed" stroke="#cfcfcf" stroke-width="1.2">G</text>
<text x="1049.71" y="760.66" font-size="125" textLength="86.88" lengthAdjust="spacingAndGlyphs" fill="#ededed" stroke="#cfcfcf" stroke-width="1.2">N</text>
</g>
<rect x="718" y="591" width="1" height="296" fill="#000"/>
<rect x="714" y="688" width="594" height="1" fill="#000"/>
<rect x="714" y="688" width="3" height="2" fill="#000"/>
<rect x="1305" y="688" width="3" height="2" fill="#000"/>
<rect x="714" y="788" width="594" height="1" fill="#000"/>
<rect x="714" y="788" width="3" height="2" fill="#000"/>
<rect x="1305" y="788" width="3" height="2" fill="#000"/>
<rect x="766" y="884" width="2" height="3" fill="#000"/>
<rect x="766" y="591" width="2" height="3" fill="#000"/>
<rect x="815" y="884" width="2" height="3" fill="#000"/>
<rect x="815" y="591" width="2" height="3" fill="#000"/>
<rect x="865" y="884" width="2" height="3" fill="#000"/>
<rect x="865" y="591" width="2" height="3" fill="#000"/>
<rect x="914" y="884" width="2" height="3" fill="#000"/>
<rect x="914" y="591" width="2" height="3" fill="#000"/>
<rect x="963" y="884" width="2" height="3" fill="#000"/>
<rect x="963" y="591" width="2" height="3" fill="#000"/>
<rect x="1012" y="884" width="2" height="3" fill="#000"/>
<rect x="1012" y="591" width="2" height="3" fill="#000"/>
<rect x="1061" y="884" width="2" height="3" fill="#000"/>
<rect x="1061" y="591" width="2" height="3" fill="#000"/>
<rect x="1110" y="884" width="2" height="3" fill="#000"/>
<rect x="1110" y="591" width="2" height="3" fill="#000"/>
<rect x="1159" y="884" width="2" height="3" fill="#000"/>
<rect x="1159" y="591" width="2" height="3" fill="#000"/>
<rect x="1209" y="884" width="2" height="3" fill="#000"/>
<rect x="1209" y="591" width="2" height="3" fill="#000"/>
<rect x="1258" y="884" width="2" height="3" fill="#000"/>
<rect x="1258" y="591" width="2" height="3" fill="#000"/>
<rect x="709" y="587" width="5" height="304" fill="#000"/>
<rect x="709" y="587" width="605" height="4" fill="#000"/>
<rect x="1308" y="587" width="6" height="304" fill="#000"/>
<rect x="709" y="887" width="605" height="4" fill="#000"/>
<rect x="1217.5" y="602.5" width="13" height="13" fill="#4a96c9" stroke="#000" stroke-width="1"/>
<rect x="1217.5" y="632.5" width="13" height="13" fill="#eec61c" stroke="#000" stroke-width="1"/>
<text x="1232.88" y="611.60" font-size="13.6" textLength="49.29" lengthAdjust="spacingAndGlyphs">RMS L1</text>
<text x="1232.83" y="641.60" font-size="13.6" textLength="51.38" lengthAdjust="spacingAndGlyphs">RMS L2</text>
<g font-family="Liberation Sans">
<text x="730.50" y="907.00" font-size="14.3" textLength="23.66" lengthAdjust="spacingAndGlyphs">Ene</text>
<text x="780.03" y="907.00" font-size="14.3" textLength="22.92" lengthAdjust="spacingAndGlyphs">Feb</text>
<text x="829.03" y="907.00" font-size="14.3" textLength="22.90" lengthAdjust="spacingAndGlyphs">Mar</text>
<text x="879.83" y="907.00" font-size="14.3" textLength="20.70" lengthAdjust="spacingAndGlyphs">Abr</text>
<text x="926.16" y="907.00" font-size="14.3" textLength="25.12" lengthAdjust="spacingAndGlyphs">May</text>
<text x="978.02" y="907.00" font-size="14.3" textLength="21.44" lengthAdjust="spacingAndGlyphs">Jun</text>
<text x="1029.42" y="907.00" font-size="14.3" textLength="17.00" lengthAdjust="spacingAndGlyphs">Jul</text>
<text x="1075.18" y="907.00" font-size="14.3" textLength="23.66" lengthAdjust="spacingAndGlyphs">Ago</text>
<text x="1124.06" y="907.00" font-size="14.3" textLength="23.66" lengthAdjust="spacingAndGlyphs">Sep</text>
<text x="1174.47" y="907.00" font-size="14.3" textLength="20.69" lengthAdjust="spacingAndGlyphs">Oct</text>
<text x="1221.90" y="907.00" font-size="14.3" textLength="23.65" lengthAdjust="spacingAndGlyphs">Nov</text>
<text x="1273.44" y="907.00" font-size="14.3" textLength="19.21" lengthAdjust="spacingAndGlyphs">Dic</text>
<text x="697.93" y="928.70" font-size="19.2" textLength="42.82" lengthAdjust="spacingAndGlyphs">2020</text>
<text x="1282.08" y="928.70" font-size="19.2" textLength="40.82" lengthAdjust="spacingAndGlyphs">2021</text>
</g>
<g font-family="Liberation Sans">
<text x="1319.12" y="596.70" font-size="22" textLength="30.58" lengthAdjust="spacingAndGlyphs">1.5</text>
<text x="1319.12" y="696.70" font-size="22" textLength="30.58" lengthAdjust="spacingAndGlyphs">1.0</text>
<text x="1319.94" y="796.70" font-size="22" textLength="30.58" lengthAdjust="spacingAndGlyphs">0.5</text>
<text x="1319.94" y="896.70" font-size="22" textLength="30.58" lengthAdjust="spacingAndGlyphs">0.0</text>
</g>
<g transform="translate(1378.00,826.80) rotate(-90)"><text x="-1.80" y="0.00" font-size="23.2" textLength="180.16" lengthAdjust="spacingAndGlyphs">RMS Multipath [m]</text></g>
<path d="M74 995V995H75V991H76V990H77V989H78V989H79V989H80V990H81V990H82V990H83V991H84V992H85V994H86V995H87V995H88V990H89V989H90V989H91V989H92V996H93V996H94V996H95V996H96V997H97V998H98V1000H99V995H100V994H101V994H102V993H103V992H104V992H105V992H106V999H107V993H108V992H109V992H110V987H111V986H112V986H113V994H114V995H115V997H116V997H117V993H118V992H119V991H120V991H121V991H122V992H123V993H124V995H125V994H126V993H127V990H128V989H129V988H130V988H131V988H132V989H133V990H134V993H135V992H136V991H137V984H138V984H139V984H140V991H141V992H142V993H143V993H144V993H145V993H146V993H147V993H148V993H149V993H150V993H151V994H152V994H153V993H154V993H155V993H156V992H157V992H158V992H159V992H160V991H161V991H162V991H163V991H164V991H165V992H166V993H167V998H168V992H169V991H170V991H171V991H172V990H173V990H174V990H175V991H176V990H177V989H178V988H179V988H180V988H181V989H182V990H183V992H184V993H185V993H186V993H187V992H188V991H189V991H190V991H191V992H192V992H193V991H194V990H195V990H196V990H197V991H198V990H199V989H200V989H201V989H202V990H203V991H204V991H205V991H206V992H207V993H208V994H209V986H210V984H211V983H212V982H213V982H214V992H215V992H216V991H217V990H218V990H219V990H220V991H221V992H222V994H223V990H224V988H225V987H226V986H227V986H228V986H229V986H230V985H231V984H232V984H233V984H234V985H235V990H236V991H237V991H238V991H239V991H240V992H241V993H242V994H243V993H244V993H245V992H246V991H247V990H248V990H249V990H250V991H251V988H252V987H253V986H254V986H255V986H256V986H257V986H258V983H259V980H260V979H261V978H262V978H263V978H264V979H265V980H266V981H267V979H268V977H269V976H270V972H271V971H272V970H273V970H274V969H275V978H276V969H277V970H278V971H279V972H280V979H281V980H282V979H283V978H284V978H285V978H286V978H287V979H288V980H289V979H290V978H291V977H292V976H293V976H294V975H295V974H296V973H297V973H298V973H299V974H300V974H301V975H302V975H303V974H304V973H305V973H306V973H307V974H308V975H309V977H310V976H311V975H312V975H313V975H314V975H315V975H316V975H317V976H318V977H319V978H320V977H321V976H322V976H323V976H324V975H325V974H326V974H327V971H328V970H329V969H330V969H331V969H332V970H333V971H334V975H335V978H336V978H337V978H338V978H339V978H340V979H341V980H342V979H343V978H344V978H345V971H346V971H347V971H348V978H349V979H350V980H351V980H352V980H353V980H354V980H355V980H356V978H357V977H358V967H359V967H360V968H361V969H362V978H363V978H364V978H365V979H366V978H367V976H368V971H369V970H370V970H371V970H372V971H373V971H374V970H375V970H376V970H377V971H378V972H379V973H380V973H381V973H382V972H383V965H384V965H385V973H386V973H387V973H388V973H389V972H390V971H391V971H392V971H393V972H394V972H395V972H396V973H397V974H398V974H399V974H400V974H401V975H402V976H403V976H404V973H405V972H406V971H407V971H408V971H409V972H410V973H411V975H412V975H413V975H414V975H415V975H416V970H417V969H418V977H419V979H420V979H421V978H422V978H423V970H424V971H425V972H426V971H427V971H428V971H429V971H430V970H431V969H432V969H433V969H434V970H435V970H436V971H437V972H438V973H439V973H440V973H441V973H442V974H443V975H444V977H445V978H446V979H447V978H448V977H449V976H450V974H451V970H452V969H453V968H454V968H455V965H456V964H457V963H458V963H459V963H460V964H461V965H462V968H463V969H464V970H465V972H466V974H467V975H468V974H469V973H470V973H471V973H472V974H473V975H474V978H475V978H476V979H477V980H478V978H479V977H480V973H481V972H482V971H483V971H484V971H485V972H486V973H487V973H488V972H489V972H490V972H491V973H492V978H493V973H494V972H495V972H496V972H497V973H498V974H499V973H500V972H501V972H502V972H503V973H504V972H505V972H506V972H507V970H508V969H509V968H510V968H511V967H512V966H513V966H514V966H515V967H516V968H517V972H518V971H519V967H520V966H521V965H522V965H523V965H524V965H525V966H526V967H527V969H528V969H529V969H530V970H531V970H532V971H533V972H534V962H535V963H536V964H537V967H538V967H539V968H540V968H541V966H542V965H543V964H544V964H545V964H546V965H547V970H548V967H549V966H550V965H551V964H552V964H553V964H554V965H555V966H556V972H557V974H558V975H559V973H560V972H561V971H562V971H563V971H564V972H565V973H566V973H567V972H568V972H569V972H570V972H571V972H572V972H573V973H574V970H575V969H576V968H577V968H578V967H579V966H580V966H581V966H582V966H583V967H584V967H585V968H586V968H587V969H588V970H589V969H590V969H591V969H592V970H593V971H594V972H595V973H596V972H597V971H598V971H599V963H600V964H601V965H602V965H603V966H604V967H605V968H606V968H607V969H608V970H609V967H610V966H611V965H612V965H613V965H614V972H615V972H616V971H617V971H618V971H619V971H620V971H621V972H622V973H623V973H624V973H625V974H626V972H627V971H628V970H629V970H630V970H631V971H632V972H633V973H634V974H635V973H636V973H637V973H638V974H639V975H640V983H639V1004H638V1005H637V1006H636V1007H635V1007H634V1007H633V1006H632V1007H631V1008H630V1008H629V1008H628V1011H627V1012H626V1020H625V1020H624V1020H623V1013H622V1013H621V1012H620V1012H619V1013H618V1016H617V1017H616V1018H615V1018H614V1002H613V1003H612V1004H611V1004H610V1005H609V1006H608V1007H607V1008H606V1009H605V1010H604V1010H603V1010H602V1009H601V1008H600V1008H599V1009H598V1009H597V1009H596V1008H595V1009H594V1009H593V1009H592V1008H591V1007H590V1008H589V1008H588V1008H587V998H586V999H585V999H584V999H583V998H582V997H581V998H580V1001H579V1002H578V1003H577V1004H576V1005H575V1005H574V1005H573V1010H572V1011H571V1011H570V1011H569V1010H568V1009H567V1008H566V1008H565V1009H564V1009H563V1009H562V1008H561V1007H560V1007H559V1008H558V1008H557V1008H556V1008H555V1008H554V1008H553V1007H552V1006H551V1002H550V1002H549V1002H548V1001H547V1000H546V999H545V1008H544V1008H543V1008H542V1007H541V1006H540V1005H539V1005H538V1004H537V1005H536V1005H535V1005H534V1004H533V1003H532V1007H531V1008H530V1009H529V1009H528V1009H527V1008H526V1007H525V1005H524V1004H523V1003H522V1004H521V1004H520V1005H519V1005H518V1005H517V1005H516V1005H515V1005H514V1005H513V1006H512V1007H511V1007H510V1007H509V1010H508V1011H507V1012H506V1012H505V1012H504V1011H503V1011H502V1011H501V1016H500V1017H499V1017H498V1017H497V1016H496V1015H495V1014H494V1014H493V1014H492V1013H491V1013H490V1014H489V1014H488V1014H487V1013H486V1008H485V1009H484V1010H483V1011H482V1012H481V1013H480V1013H479V1013H478V1012H477V1011H476V1005H475V1006H474V1007H473V1008H472V1009H471V1010H470V1010H469V1010H468V1009H467V1008H466V1006H465V1006H464V1007H463V1008H462V1009H461V1009H460V1009H459V1009H458V1009H457V1008H456V1007H455V1004H454V1004H453V1015H452V1016H451V1016H450V1016H449V1015H448V1014H447V1012H446V1012H445V1011H444V1011H443V1011H442V1010H441V1009H440V1006H439V1006H438V1005H437V1005H436V1004H435V1003H434V1004H433V1004H432V1004H431V1006H430V1007H429V1008H428V1008H427V1008H426V1008H425V1013H424V1014H423V1014H422V1014H421V1014H420V1014H419V1013H418V1008H417V1007H416V1008H415V1009H414V1009H413V1009H412V1008H411V1008H410V1009H409V1010H408V1010H407V1010H406V1010H405V1009H404V1008H403V1008H402V1009H401V1010H400V1010H399V1010H398V1010H397V1011H396V1011H395V1003H394V1002H393V1009H392V1010H391V1011H390V1012H389V1012H388V1012H387V1011H386V1010H385V1011H384V1011H383V1011H382V1010H381V1009H380V1006H379V1007H378V1007H377V1007H376V1007H375V1008H374V1008H373V1008H372V1008H371V1007H370V1009H369V1012H368V1013H367V1014H366V1014H365V1014H364V1013H363V1012H362V1011H361V1012H360V1013H359V1013H358V1013H357V1012H356V1011H355V1008H354V1008H353V1008H352V1010H351V1011H350V1012H349V1012H348V1013H347V1014H346V1015H345V1018H344V1019H343V1020H342V1020H341V1020H340V1013H339V1014H338V1017H337V1018H336V1019H335V1019H334V1008H333V1008H332V1008H331V1007H330V1006H329V1005H328V1005H327V1015H326V1015H325V1014H324V1013H323V1013H322V1013H321V1013H320V1005H319V1002H318V1002H317V1003H316V1012H315V1011H314V1009H313V1009H312V1008H311V1007H310V1007H309V1006H308V1006H307V1006H306V1007H305V1013H304V1011H303V1012H302V1012H301V1012H300V1011H299V1012H298V1013H297V1013H296V1013H295V1012H294V1011H293V1009H292V1010H291V1011H290V1011H289V1019H288V1019H287V1005H286V1005H285V1006H284V1006H283V1007H282V1010H281V1011H280V1012H279V1012H278V1017H277V1018H276V1018H275V1018H274V1017H273V1016H272V1009H271V1009H270V1009H269V1012H268V1013H267V1014H266V1014H265V1014H264V1014H263V1015H262V1016H261V1017H260V1017H259V1017H258V1018H257V1019H256V1021H255V1022H254V1023H253V1024H252V1024H251V1025H250V1025H249V1026H248V1027H247V1028H246V1028H245V1028H244V1027H243V1028H242V1028H241V1028H240V1028H239V1029H238V1029H237V1029H236V1021H235V1022H234V1023H233V1025H232V1026H231V1027H230V1027H229V1027H228V1026H227V1025H226V1023H225V1026H224V1027H223V1028H222V1028H221V1028H220V1027H219V1026H218V1024H217V1023H216V1022H215V1035H214V1035H213V1034H212V1028H211V1023H210V1026H209V1027H208V1028H207V1028H206V1028H205V1027H204V1026H203V1024H202V1025H201V1032H200V1032H199V1032H198V1025H197V1026H196V1027H195V1027H194V1027H193V1026H192V1025H191V1024H190V1023H189V1022H188V1023H187V1024H186V1025H185V1025H184V1025H183V1024H182V1024H181V1023H180V1022H179V1022H178V1021H177V1022H176V1023H175V1024H174V1027H173V1028H172V1029H171V1029H170V1029H169V1028H168V1027H167V1027H166V1028H165V1029H164V1029H163V1029H162V1028H161V1027H160V1034H159V1034H158V1034H157V1027H156V1027H155V1026H154V1026H153V1026H152V1026H151V1025H150V1024H149V1025H148V1026H147V1027H146V1027H145V1027H144V1026H143V1025H142V1025H141V1025H140V1025H139V1024H138V1025H137V1026H136V1027H135V1027H134V1027H133V1026H132V1027H131V1028H130V1028H129V1028H128V1028H127V1028H126V1027H125V1026H124V1024H123V1025H122V1025H121V1025H120V1024H119V1027H118V1028H117V1029H116V1029H115V1029H114V1028H113V1029H112V1030H111V1031H110V1031H109V1031H108V1032H107V1033H106V1025H105V1025H104V1032H103V1031H102V1031H101V1032H100V1033H99V1033H98V1033H97V1032H96V1031H95V1032H94V1032H93V1032H92V1031H91V1030H90V1027H89V1028H88V1029H87V1029H86V1029H85V1028H84V1027H83V1024H82V1025H81V1025H80V1026H79V1027H78V1027H77V1028H76V1028H75V1028H74Z" fill="#8e8e8e" shape-rendering="crispEdges"/>
<path d="M74 1010h0m1 -6h0m0 13h0m0 -12h0m0 14h0m0 -13h0m0 -5h0m-1 -3h0m1 26h0m-1 -18h0m0 8h0m16 -22h0m11 35h0m0 -30h0m3 -2h0m1 34h0m7 -40h0m4 -2h0m11 45h0m11 -45h0m11 0h0m1 43h0m8 0h0m12 -36h0m6 35h0m2 -3h0m6 4h0m15 -2h0m10 -39h0m4 36h0m1 6h0m-1 -46h0m10 48h0m9 -46h0m5 38h0m25 -3h0m6 -3h0m5 -7h0m0 -39h0m2 -1h0m0 42h0m3 -39h0m8 34h0m2 6h0m19 -4h0m6 -6h0m4 4h0m9 2h0m8 4h0m7 1h0m4 8h0m1 -50h0m4 45h0m8 -49h0m2 52h0m0 -48h0m10 -1h0m14 -5h0m1 0h0m10 39h0m23 -35h0m2 38h0m2 -37h0m0 37h0m28 -3h0m0 5h0m0 -3h0m38 1h0m1 -35h0m9 38h0m12 6h0m23 -54h0m11 2h0m-1 37h0m0 -1h0m10 -34h0m17 38h0m16 -4h0m1 -1h0m10 -36h0m11 50h0m4 -48h0m2 46h0m1 -8h0m-1 2h0m2 -4h0m8 12h0m12 -27h0m0 10h0m0 -4h0m0 -9h0m0 15h0m0 -7h0" stroke="#8e8e8e" stroke-width="6.6" stroke-linecap="round" fill="none"/>
<path d="M74 1031V1031H75V1027H76V1026H77V1015H78V1014H79V1014H80V1014H81V1015H82V1015H83V1015H84V1016H85V1022H86V1024H87V1024H88V1024H89V1024H90V1025H91V1024H92V1016H93V1016H94V1016H95V1024H96V1029H97V1028H98V1017H99V1017H100V1017H101V1018H102V1019H103V1020H104V1020H105V1021H106V1022H107V1025H108V1020H109V1017H110V1016H111V1015H112V1015H113V1015H114V1016H115V1024H116V1018H117V1017H118V1017H119V1017H120V1018H121V1019H122V1023H123V1024H124V1022H125V1019H126V1018H127V1017H128V1017H129V1017H130V1016H131V1016H132V1016H133V1017H134V1018H135V1021H136V1026H137V1022H138V1021H139V1019H140V1018H141V1017H142V1017H143V1017H144V1024H145V1023H146V1023H147V1023H148V1007H149V1015H150V1016H151V1019H152V1028H153V1033H154V1033H155V1033H156V1023H157V1023H158V1024H159V1025H160V1028H161V1029H162V1030H163V1021H164V1021H165V1022H166V1030H167V1031H168V1025H169V1024H170V1024H171V1024H172V1025H173V1018H174V1026H175V1026H176V1025H177V1024H178V1023H179V1018H180V1017H181V1017H182V1017H183V1024H184V1024H185V1025H186V1026H187V1029H188V1028H189V1027H190V1026H191V1025H192V1025H193V1025H194V1025H195V1025H196V1025H197V1024H198V1023H199V1022H200V1022H201V1022H202V1023H203V1023H204V1022H205V1021H206V1021H207V1021H208V1022H209V1022H210V1022H211V1021H212V1020H213V1020H214V1015H215V1009H216V1022H217V1030H218V1030H219V1020H220V1020H221V1021H222V1022H223V1022H224V1022H225V1015H226V1016H227V1018H228V1018H229V1018H230V1019H231V1020H232V1020H233V1016H234V1015H235V1014H236V1014H237V1014H238V1015H239V1016H240V1017H241V1017H242V1017H243V1033H244V1032H245V1024H246V1025H247V1026H248V1025H249V1024H250V1019H251V1018H252V1018H253V1018H254V1019H255V1020H256V1020H257V1019H258V1019H259V1019H260V1019H261V1020H262V1021H263V1023H264V1024H265V1023H266V1021H267V1014H268V1007H269V1005H270V997H271V997H272V997H273V998H274V1004H275V1015H276V1015H277V1015H278V1016H279V1016H280V1015H281V1012H282V1004H283V1003H284V1002H285V1001H286V1001H287V1001H288V1002H289V1002H290V998H291V997H292V996H293V996H294V996H295V1015H296V998H297V999H298V998H299V998H300V998H301V999H302V1007H303V1008H304V1008H305V1008H306V1007H307V998H308V998H309V998H310V999H311V1006H312V1007H313V1009H314V999H315V998H316V998H317V998H318V999H319V1000H320V1003H321V1003H322V1004H323V1009H324V1010H325V1011H326V998H327V999H328V999H329V1000H330V1001H331V1003H332V1003H333V1003H334V1004H335V1002H336V1001H337V1000H338V1000H339V1000H340V1001H341V1002H342V1004H343V1002H344V1001H345V1000H346V1000H347V1010H348V1010H349V1009H350V1009H351V1009H352V1010H353V1010H354V1001H355V1001H356V1001H357V1002H358V1003H359V1003H360V1003H361V1004H362V1004H363V1004H364V1004H365V1012H366V1004H367V1004H368V1005H369V1010H370V1010H371V1010H372V1010H373V1001H374V1001H375V1001H376V1001H377V1001H378V1002H379V1003H380V1004H381V1005H382V1006H383V1006H384V1006H385V1007H386V1008H387V1011H388V1009H389V1003H390V1002H391V1002H392V1002H393V1001H394V1001H395V1001H396V1002H397V1003H398V1002H399V999H400V998H401V1009H402V985H403V1005H404V998H405V998H406V992H407V991H408V991H409V991H410V992H411V998H412V998H413V1006H414V1007H415V1008H416V1008H417V1009H418V1009H419V1007H420V1006H421V1005H422V1002H423V1001H424V1000H425V1000H426V1012H427V1013H428V1013H429V1003H430V1003H431V1004H432V1013H433V1005H434V1005H435V1005H436V1006H437V1006H438V1006H439V1007H440V1008H441V1009H442V1010H443V1011H444V1013H445V1011H446V1010H447V1009H448V1009H449V1009H450V1010H451V1011H452V1003H453V1003H454V1003H455V1004H456V1005H457V1006H458V1014H459V1015H460V1016H461V1018H462V1002H463V1002H464V1001H465V1010H466V1011H467V1002H468V1002H469V1002H470V1003H471V1004H472V1005H473V1004H474V1004H475V1004H476V1005H477V1005H478V1004H479V1003H480V1002H481V1002H482V1002H483V1003H484V1014H485V1014H486V1014H487V1014H488V1014H489V1015H490V1016H491V1000H492V1000H493V1000H494V1000H495V1000H496V1000H497V1000H498V1001H499V1009H500V1010H501V1010H502V1009H503V1009H504V1009H505V1010H506V1011H507V1013H508V1013H509V1013H510V1013H511V1012H512V1011H513V1011H514V1003H515V1002H516V1002H517V1002H518V998H519V997H520V996H521V995H522V995H523V1007H524V996H525V997H526V1017H527V1017H528V1011H529V1008H530V1007H531V1006H532V999H533V999H534V999H535V1000H536V1001H537V1001H538V1002H539V1003H540V998H541V997H542V997H543V996H544V995H545V994H546V994H547V994H548V1001H549V1002H550V1003H551V1006H552V1000H553V999H554V994H555V993H556V992H557V992H558V1003H559V993H560V994H561V996H562V995H563V995H564V995H565V1004H566V1005H567V1006H568V1007H569V1008H570V1008H571V1008H572V1015H573V1015H574V1012H575V1011H576V1010H577V1010H578V1008H579V1007H580V1006H581V1006H582V1006H583V1007H584V1007H585V997H586V997H587V997H588V998H589V999H590V1000H591V1015H592V1015H593V1002H594V1003H595V1002H596V1001H597V1000H598V1000H599V1000H600V1016H601V1002H602V1005H603V1006H604V1005H605V1004H606V1004H607V1002H608V1001H609V1000H610V1000H611V1000H612V1000H613V999H614V999H615V999H616V1000H617V1001H618V1000H619V988H620V987H621V987H622V987H623V988H624V989H625V1003H626V1001H627V1000H628V999H629V999H630V999H631V1000H632V1005H633V1006H634V1006H635V1006H636V1007H637V1013H638V1029H639V1033H640V1043H641V1046H640V1050H639V1071H638V1072H637V1079H636V1079H635V1079H634V1078H633V1079H632V1080H631V1081H630V1069H629V1068H628V1067H627V1064H626V1075H625V1080H624V1081H623V1081H622V1081H621V1080H620V1065H619V1060H618V1059H617V1058H616V1067H615V1067H614V1067H613V1066H612V1065H611V1064H610V1064H609V1063H608V1074H607V1073H606V1072H605V1071H604V1070H603V1069H602V1070H601V1070H600V1072H599V1073H598V1074H597V1057H596V1057H595V1073H594V1072H593V1072H592V1072H591V1072H590V1072H589V1072H588V1072H587V1071H586V1070H585V1061H584V1061H583V1073H582V1074H581V1077H580V1078H579V1079H578V1079H577V1079H576V1078H575V1077H574V1075H573V1075H572V1067H571V1067H570V1067H569V1066H568V1061H567V1061H566V1060H565V1059H564V1058H563V1064H562V1067H561V1068H560V1069H559V1057H558V1072H557V1073H556V1073H555V1073H554V1072H553V1071H552V1068H551V1067H550V1066H549V1065H548V1064H547V1063H546V1060H545V1063H544V1064H543V1065H542V1065H541V1065H540V1064H539V1063H538V1067H537V1068H536V1069H535V1069H534V1069H533V1068H532V1067H531V1066H530V1066H529V1085H528V1085H527V1064H526V1084H525V1072H524V1071H523V1071H522V1072H521V1073H520V1074H519V1074H518V1074H517V1073H516V1073H515V1074H514V1074H513V1074H512V1073H511V1074H510V1075H509V1075H508V1075H507V1074H506V1075H505V1075H504V1075H503V1074H502V1073H501V1070H500V1071H499V1072H498V1072H497V1072H496V1071H495V1070H494V1066H493V1071H492V1072H491V1072H490V1072H489V1071H488V1070H487V1070H486V1071H485V1072H484V1073H483V1073H482V1073H481V1072H480V1071H479V1069H478V1070H477V1070H476V1083H475V1084H474V1085H473V1085H472V1063H471V1063H470V1063H469V1063H468V1063H467V1068H466V1069H465V1070H464V1071H463V1072H462V1072H461V1072H460V1072H459V1072H458V1072H457V1071H456V1071H455V1070H454V1069H453V1070H452V1070H451V1071H450V1072H449V1073H448V1073H447V1073H446V1074H445V1074H444V1074H443V1073H442V1072H441V1081H440V1081H439V1081H438V1080H437V1079H436V1078H435V1078H434V1071H433V1070H432V1067H431V1067H430V1082H429V1083H428V1083H427V1083H426V1066H425V1066H424V1065H423V1064H422V1063H421V1063H420V1063H419V1064H418V1064H417V1067H416V1068H415V1069H414V1069H413V1070H412V1072H411V1073H410V1074H409V1074H408V1074H407V1074H406V1074H405V1074H404V1073H403V1073H402V1073H401V1073H400V1072H399V1071H398V1069H397V1070H396V1070H395V1062H394V1060H393V1060H392V1060H391V1061H390V1062H389V1078H388V1078H387V1071H386V1060H385V1059H384V1058H383V1058H382V1075H381V1075H380V1076H379V1076H378V1081H377V1069H376V1068H375V1064H374V1063H373V1065H372V1075H371V1075H370V1081H369V1082H368V1082H367V1071H366V1071H365V1071H364V1071H363V1072H362V1073H361V1073H360V1073H359V1072H358V1071H357V1068H356V1067H355V1074H354V1064H353V1075H352V1063H351V1074H350V1080H349V1081H348V1067H347V1068H346V1068H345V1074H344V1072H343V1073H342V1074H341V1065H340V1066H339V1066H338V1066H337V1066H336V1065H335V1064H334V1061H333V1064H332V1065H331V1071H330V1072H329V1073H328V1073H327V1075H326V1083H325V1083H324V1082H323V1077H322V1076H321V1075H320V1069H319V1069H318V1070H317V1071H316V1072H315V1072H314V1072H313V1071H312V1070H311V1067H310V1067H309V1066H308V1065H307V1065H306V1065H305V1064H304V1064H303V1063H302V1062H301V1062H300V1062H299V1062H298V1072H297V1072H296V1072H295V1071H294V1070H293V1067H292V1067H291V1066H290V1065H289V1066H288V1066H287V1066H286V1065H285V1066H284V1067H283V1068H282V1073H281V1074H280V1074H279V1074H278V1073H277V1068H276V1073H275V1074H274V1074H273V1074H272V1074H271V1075H270V1075H269V1075H268V1075H267V1076H266V1076H265V1085H264V1085H263V1085H262V1084H261V1083H260V1084H259V1084H258V1084H257V1083H256V1082H255V1083H254V1084H253V1085H252V1085H251V1087H250V1088H249V1089H248V1081H247V1091H246V1091H245V1091H244V1090H243V1089H242V1089H241V1088H240V1087H239V1087H238V1087H237V1087H236V1086H235V1087H234V1087H233V1087H232V1086H231V1085H230V1095H229V1096H228V1097H227V1097H226V1097H225V1096H224V1097H223V1098H222V1099H221V1085H220V1082H219V1081H218V1084H217V1085H216V1086H215V1086H214V1086H213V1085H212V1084H211V1084H210V1083H209V1083H208V1090H207V1090H206V1090H205V1089H204V1088H203V1082H202V1083H201V1084H200V1084H199V1084H198V1083H197V1083H196V1083H195V1084H194V1085H193V1086H192V1086H191V1086H190V1086H189V1086H188V1086H187V1079H186V1078H185V1077H184V1085H183V1086H182V1086H181V1086H180V1074H179V1074H178V1091H177V1091H176V1091H175V1090H174V1089H173V1086H172V1084H171V1083H170V1086H169V1087H168V1096H167V1097H166V1101H165V1088H164V1088H163V1088H162V1087H161V1086H160V1084H159V1084H158V1085H157V1086H156V1086H155V1087H154V1090H153V1091H152V1092H151V1079H150V1080H149V1081H148V1081H147V1081H146V1096H145V1096H144V1095H143V1095H142V1096H141V1097H140V1097H139V1097H138V1085H137V1084H136V1088H135V1089H134V1090H133V1090H132V1090H131V1089H130V1088H129V1087H128V1088H127V1088H126V1088H125V1089H124V1090H123V1090H122V1090H121V1091H120V1092H119V1092H118V1084H117V1084H116V1084H115V1092H114V1091H113V1091H112V1090H111V1091H110V1092H109V1092H108V1092H107V1091H106V1091H105V1091H104V1091H103V1092H102V1092H101V1074H100V1100H99V1099H98V1081H97V1080H96V1079H95V1079H94V1080H93V1081H92V1082H91V1082H90V1087H89V1088H88V1089H87V1089H86V1089H85V1088H84V1087H83V1085H82V1085H81V1085H80V1094H79V1094H78V1094H77V1095H76V1095H75V1095H74Z" fill="#00ff00" shape-rendering="crispEdges"/>
<path d="M75 1058h0m-1 21h0m1 -7h0m0 -34h0m0 53h0m-1 -38h0m0 18h0m0 9h0m1 -29h0m0 -7h0m-1 17h0m1 -14h0m0 -4h0m-1 6h0m0 29h0m0 -16h0m1 -25h0m0 28h0m1 -32h0m0 54h0m3 -70h0m0 5h0m0 68h0m3 -72h0m5 0h0m0 66h0m6 -58h0m0 -7h0m0 71h0m3 -5h0m0 10h0m1 -19h0m2 9h0m0 -61h0m-1 66h0m1 -12h0m0 -58h0m2 77h0m2 -93h0m2 11h0m5 7h0m2 -4h0m1 69h0m0 -68h0m2 69h0m1 13h0m2 -13h0m6 -74h0m4 85h0m5 -76h0m7 65h0m-1 5h0m3 -73h0m2 66h0m1 6h0m1 -2h0m1 -73h0m0 76h0m2 -8h0m0 -75h0m1 20h0m0 58h0m1 -66h0m0 61h0m5 -57h0m4 -10h0m2 83h0m1 -75h0m1 1h0m1 -14h0m-1 83h0m2 -3h0m4 -64h0m4 -6h0m2 66h0m-1 -3h0m1 0h0m0 -7h0m2 2h0m2 -1h0m1 4h0m0 -62h0m7 62h0m2 9h0m2 -73h0m2 2h0m2 -11h0m-1 3h0m4 -1h0m5 0h0m1 74h0m1 1h0m8 -60h0m2 -9h0m-1 74h0m-1 0h0m3 -80h0m1 14h0m1 -2h0m1 69h0m0 3h0m3 -78h0m0 71h0m5 0h0m1 -78h0m3 -4h0m8 20h0m1 -6h0m-1 9h0m3 -3h0m3 72h0m-1 -11h0m2 -2h0m5 -64h0m3 -9h0m6 2h0m1 64h0m0 -69h0m2 72h0m-1 -65h0m4 66h0m4 -82h0m-2 10h0m3 2h0m1 -3h0m-1 -3h0m1 64h0m4 8h0m-1 -70h0m3 62h0m3 -63h0m10 -4h0m1 -4h0m-1 11h0m1 -1h0m2 -3h0m1 62h0m1 -58h0m0 56h0m2 -65h0m7 68h0m2 -66h0m0 -2h0m5 1h0m3 4h0m4 0h0m3 -7h0m2 80h0m1 -75h0m2 -17h0m0 21h0m3 -12h0m0 -6h0m2 8h0m7 72h0m1 -1h0m0 -78h0m5 12h0m2 -14h0m-1 88h0m0 -5h0m4 -5h0m-1 2h0m2 -65h0m0 67h0m2 -77h0m-1 76h0m9 -63h0m0 2h0m1 -2h0m1 68h0m2 -68h0m1 71h0m3 -7h0m0 -2h0m3 -65h0m2 74h0m3 -6h0m2 -11h0m0 2h0m1 1h0m2 -1h0m-1 8h0m3 -70h0m1 63h0m-1 0h0m3 10h0m-1 -7h0m2 0h0m2 -62h0m0 65h0m1 -3h0m3 -1h0m4 -61h0m2 -12h0m1 7h0m1 -12h0m4 91h0m1 -85h0m3 8h0m0 -1h0m7 70h0m2 -3h0m1 -73h0m1 86h0m1 -7h0m2 -71h0m1 4h0m1 63h0m0 9h0m0 -10h0m1 4h0m0 -3h0m0 4h0m2 -1h0m0 -64h0m-1 -3h0m3 69h0m6 1h0m1 1h0m3 -79h0m1 90h0m-1 -10h0m3 5h0m6 -5h0m2 -72h0m2 3h0m0 1h0m2 66h0m-1 -67h0m7 -4h0m1 60h0m-1 -53h0m2 -8h0m6 63h0m1 14h0m1 -9h0m1 3h0m3 2h0m0 -1h0m4 -71h0m0 5h0m0 -16h0m0 17h0m2 71h0m3 -77h0m0 76h0m0 -77h0m1 0h0m3 3h0m0 61h0m2 -65h0m0 79h0m1 -70h0m3 -9h0m10 78h0m3 -75h0m-1 -2h0m2 0h0m0 -1h0m1 3h0m5 2h0m0 73h0m6 -83h0m1 4h0m0 12h0m0 -4h0m2 58h0m1 7h0m0 -71h0m1 66h0m-1 -2h0m1 13h0m3 -68h0m3 -11h0m10 67h0m-1 -83h0m0 14h0m2 70h0m2 -85h0m2 4h0m-2 8h0m8 5h0m1 58h0m0 1h0m0 8h0m1 -86h0m1 14h0m0 -2h0m2 67h0m-1 3h0m2 -4h0m2 -60h0m1 -3h0m5 -1h0m0 76h0m2 -62h0m0 52h0m2 8h0m7 -71h0m1 70h0m2 -69h0m1 65h0m0 -1h0m4 -61h0m-2 -15h0m1 11h0m4 7h0m-1 3h0m1 -7h0m0 74h0m3 -17h0m-1 8h0m0 -59h0m2 2h0m0 51h0m2 5h0m1 -56h0m0 1h0m0 66h0m-1 -8h0m3 -62h0m-1 -5h0m2 75h0m5 -11h0m3 3h0m4 -76h0m0 84h0m1 -18h0m0 1h0m1 2h0m3 11h0m1 -2h0m0 -1h0m2 -76h0m2 82h0m-1 -87h0m0 72h0m1 -65h0m1 70h0m0 4h0m3 0h0m-1 -78h0m4 84h0m0 -75h0m6 73h0m-1 -66h0m1 14h0m1 -5h0m0 39h0m0 9h0m0 -12h0m0 8h0m0 6h0" stroke="#00ff00" stroke-width="6.6" stroke-linecap="round" fill="none"/>
<path d="M122 1141h0m320 -49h0m151 128h0" stroke="#8e8e8e" stroke-width="6.6" stroke-linecap="round" fill="none"/>
<path d="M122 1144h0m320 -32h0m151 110h0m-388 24h0m377 0h0m-495 -137h0m27 1h0m10 0h0m141 -13h0m222 -1h0m25 0h0" stroke="#00ff00" stroke-width="6.6" stroke-linecap="round" fill="none"/>
<g class="wm">
<text x="233.71" y="1160.96" font-size="125" textLength="49.59" lengthAdjust="spacingAndGlyphs" fill="#c9c9c9">I</text>
<text x="281.05" y="1160.96" font-size="125" textLength="94.78" lengthAdjust="spacingAndGlyphs" fill="#c9c9c9">G</text>
<text x="374.71" y="1160.96" font-size="125" textLength="86.88" lengthAdjust="spacingAndGlyphs" fill="#c9c9c9">N</text>
<text x="228.71" y="1155.96" font-size="125" textLength="49.59" lengthAdjust="spacingAndGlyphs" fill="#ededed" stroke="#cfcfcf" stroke-width="1.2">I</text>
<text x="276.05" y="1155.96" font-size="125" textLength="94.78" lengthAdjust="spacingAndGlyphs" fill="#ededed" stroke="#cfcfcf" stroke-width="1.2">G</text>
<text x="369.71" y="1155.96" font-size="125" textLength="86.88" lengthAdjust="spacingAndGlyphs" fill="#ededed" stroke="#cfcfcf" stroke-width="1.2">N</text>
</g>
<rect x="78" y="951" width="1" height="296" fill="#000"/>
<rect x="74" y="1048" width="594" height="1" fill="#000"/>
<rect x="74" y="1048" width="3" height="2" fill="#000"/>
<rect x="665" y="1048" width="3" height="2" fill="#000"/>
<rect x="74" y="1148" width="594" height="1" fill="#000"/>
<rect x="74" y="1148" width="3" height="2" fill="#000"/>
<rect x="665" y="1148" width="3" height="2" fill="#000"/>
<rect x="126" y="1244" width="2" height="3" fill="#000"/>
<rect x="126" y="951" width="2" height="3" fill="#000"/>
<rect x="175" y="1244" width="2" height="3" fill="#000"/>
<rect x="175" y="951" width="2" height="3" fill="#000"/>
<rect x="225" y="1244" width="2" height="3" fill="#000"/>
<rect x="225" y="951" width="2" height="3" fill="#000"/>
<rect x="274" y="1244" width="2" height="3" fill="#000"/>
<rect x="274" y="951" width="2" height="3" fill="#000"/>
<rect x="323" y="1244" width="2" height="3" fill="#000"/>
<rect x="323" y="951" width="2" height="3" fill="#000"/>
<rect x="372" y="1244" width="2" height="3" fill="#000"/>
<rect x="372" y="951" width="2" height="3" fill="#000"/>
<rect x="421" y="1244" width="2" height="3" fill="#000"/>
<rect x="421" y="951" width="2" height="3" fill="#000"/>
<rect x="470" y="1244" width="2" height="3" fill="#000"/>
<rect x="470" y="951" width="2" height="3" fill="#000"/>
<rect x="519" y="1244" width="2" height="3" fill="#000"/>
<rect x="519" y="951" width="2" height="3" fill="#000"/>
<rect x="569" y="1244" width="2" height="3" fill="#000"/>
<rect x="569" y="951" width="2" height="3" fill="#000"/>
<rect x="618" y="1244" width="2" height="3" fill="#000"/>
<rect x="618" y="951" width="2" height="3" fill="#000"/>
<rect x="69" y="947" width="5" height="304" fill="#000"/>
<rect x="69" y="947" width="605" height="4" fill="#000"/>
<rect x="668" y="947" width="6" height="304" fill="#000"/>
<rect x="69" y="1247" width="605" height="4" fill="#000"/>
<rect x="577.5" y="974.5" width="13" height="13" fill="#8e8e8e" stroke="#000" stroke-width="1"/>
<rect x="577.5" y="1001.5" width="13" height="13" fill="#00ff00" stroke="#000" stroke-width="1"/>
<text x="592.86" y="982.70" font-size="13.6" textLength="61.64" lengthAdjust="spacingAndGlyphs">Predichas</text>
<text x="593.35" y="1009.50" font-size="13.6" textLength="74.05" lengthAdjust="spacingAndGlyphs">Observadas</text>
<g font-family="Liberation Sans">
<text x="90.50" y="1266.00" font-size="14.3" textLength="23.66" lengthAdjust="spacingAndGlyphs">Ene</text>
<text x="140.03" y="1266.00" font-size="14.3" textLength="22.92" lengthAdjust="spacingAndGlyphs">Feb</text>
<text x="189.03" y="1266.00" font-size="14.3" textLength="22.90" lengthAdjust="spacingAndGlyphs">Mar</text>
<text x="239.83" y="1266.00" font-size="14.3" textLength="20.70" lengthAdjust="spacingAndGlyphs">Abr</text>
<text x="286.16" y="1266.00" font-size="14.3" textLength="25.12" lengthAdjust="spacingAndGlyphs">May</text>
<text x="338.02" y="1266.00" font-size="14.3" textLength="21.44" lengthAdjust="spacingAndGlyphs">Jun</text>
<text x="389.42" y="1266.00" font-size="14.3" textLength="17.00" lengthAdjust="spacingAndGlyphs">Jul</text>
<text x="435.18" y="1266.00" font-size="14.3" textLength="23.66" lengthAdjust="spacingAndGlyphs">Ago</text>
<text x="484.06" y="1266.00" font-size="14.3" textLength="23.66" lengthAdjust="spacingAndGlyphs">Sep</text>
<text x="534.47" y="1266.00" font-size="14.3" textLength="20.69" lengthAdjust="spacingAndGlyphs">Oct</text>
<text x="581.90" y="1266.00" font-size="14.3" textLength="23.65" lengthAdjust="spacingAndGlyphs">Nov</text>
<text x="633.44" y="1266.00" font-size="14.3" textLength="19.21" lengthAdjust="spacingAndGlyphs">Dic</text>
<text x="57.93" y="1285.60" font-size="19.2" textLength="42.82" lengthAdjust="spacingAndGlyphs">2020</text>
<text x="642.08" y="1285.60" font-size="19.2" textLength="40.82" lengthAdjust="spacingAndGlyphs">2021</text>
</g>
<g font-family="Liberation Sans">
<text x="38.62" y="956.70" font-size="22" textLength="24.23" lengthAdjust="spacingAndGlyphs">90</text>
<text x="38.62" y="1056.70" font-size="22" textLength="24.23" lengthAdjust="spacingAndGlyphs">60</text>
<text x="38.62" y="1156.70" font-size="22" textLength="24.23" lengthAdjust="spacingAndGlyphs">30</text>
<text x="50.74" y="1256.70" font-size="22" textLength="12.11" lengthAdjust="spacingAndGlyphs">0</text>
</g>
<g transform="translate(27.20,1259.00) rotate(-90)"><text x="-1.81" y="0.00" font-size="23.2" textLength="324.37" lengthAdjust="spacingAndGlyphs">Número de observaciones / 1000</text></g>
<text x="304.90" y="1307.80" font-size="22.3" textLength="133.57" lengthAdjust="spacingAndGlyphs">Tiempo [Mes]</text>
<path d="M718.5 1066.5h0M720 1065h0M721.5 1066h0M723.5 1066h0M725 1066.5h0M726.5 1065h0M728 1064h0M730 1064h0M731.5 1065.5h0M733 1066.5h0M734.5 1064.5h0M736 1063h0M738 1063h0M739.5 1066h0M741 1064h0M742.5 1062h0M744.5 1064h0M746 1062.5h0M747.5 1063.5h0M749 1063.5h0M750.5 1063h0M752.5 1064.5h0M754 1064h0M755.5 1063.5h0M757 1064.5h0M759 1065h0M760.5 1062h0M762 1063.5h0M763.5 1063h0M765 1064h0M767 1062.5h0M768.5 1064h0M770 1064h0M771.5 1063.5h0M773.5 1063h0M775 1063.5h0M776.5 1063h0M778 1062.5h0M780 1064h0M781.5 1063h0M783 1065.5h0M784.5 1065h0M786 1062h0M788 1064.5h0M789.5 1063h0M791 1064h0M792.5 1064h0M794.5 1062h0M796 1063.5h0M797.5 1063.5h0M799 1065h0M800.5 1062.5h0M802.5 1065h0M804 1063h0M805.5 1063.5h0M807 1063h0M809 1065.5h0M810.5 1064.5h0M812 1066.5h0M813.5 1064.5h0M815 1065h0M817 1065h0M818.5 1063.5h0M820 1064h0M821.5 1065.5h0M823.5 1063.5h0M825 1064h0M826.5 1064h0M828 1064.5h0M829.5 1063.5h0M831.5 1064h0M833 1064.5h0M834.5 1064.5h0M836 1063.5h0M838 1065h0M839.5 1063h0M841 1063h0M842.5 1063h0M844 1065.5h0M846 1064h0M847.5 1063.5h0M849 1063.5h0M850.5 1065h0M852.5 1063.5h0M854 1063.5h0M855.5 1065.5h0M857 1063.5h0M858.5 1064.5h0M860.5 1065h0M862 1063.5h0M863.5 1063.5h0M865 1064.5h0M867 1061.5h0M868.5 1060h0M870 1059h0M871.5 1061.5h0M873.5 1061.5h0M875 1063h0M876.5 1062.5h0M878 1063h0M879.5 1063h0M881.5 1063.5h0M883 1064.5h0M884.5 1064.5h0M886 1065h0M888 1065.5h0M889.5 1062.5h0M891 1059h0M892.5 1062h0M894 1060h0M896 1058.5h0M897.5 1060h0M899 1059h0M900.5 1058h0M902.5 1058h0M904 1057.5h0M905.5 1058h0M907 1059h0M908.5 1057.5h0M910.5 1058h0M912 1059.5h0M913.5 1056h0M915 1058h0M917 1057h0M918.5 1056.5h0M920 1056.5h0M921.5 1057.5h0M923 1058h0M925 1057h0M926.5 1057.5h0M928 1058.5h0M929.5 1058h0M931.5 1058.5h0M933 1058h0M934.5 1058.5h0M936 1059.5h0M937.5 1058.5h0M939.5 1058h0M941 1058.5h0M942.5 1057h0M944 1057.5h0M946 1058.5h0M947.5 1058.5h0M949 1059.5h0M950.5 1058h0M952 1056.5h0M954 1060h0M955.5 1059h0M957 1057h0M958.5 1059.5h0M960.5 1058h0M962 1056h0M963.5 1057.5h0M965 1057.5h0M967 1060h0M968.5 1058h0M970 1058.5h0M971.5 1059h0M973 1059h0M975 1059h0M976.5 1060.5h0M978 1061h0M979.5 1061h0M981.5 1059h0M983 1059h0M984.5 1060.5h0M986 1059.5h0M987.5 1059.5h0M989.5 1058.5h0M991 1062.5h0M992.5 1061.5h0M994 1059.5h0M996 1061.5h0M997.5 1062h0M999 1058h0M1000.5 1060h0M1002 1060h0M1004 1061.5h0M1005.5 1060.5h0M1007 1060.5h0M1008.5 1060.5h0M1010.5 1062.5h0M1012 1063h0M1013.5 1060h0M1015 1060h0M1016.5 1064h0M1018.5 1060h0M1020 1060.5h0M1021.5 1061h0M1023 1061.5h0M1025 1062h0M1026.5 1062.5h0M1028 1062.5h0M1029.5 1065.5h0M1031 1065.5h0M1033 1067h0M1034.5 1065h0M1036 1063.5h0M1037.5 1064h0M1039.5 1066.5h0M1041 1064.5h0M1042.5 1062.5h0M1044 1064.5h0M1045.5 1065h0M1047.5 1066h0M1049 1063.5h0M1050.5 1065.5h0M1052 1065.5h0M1054 1064h0M1055.5 1064.5h0M1057 1066.5h0M1058.5 1066.5h0M1065 1065.5h0M1066.5 1065h0M1068.5 1066h0M1070 1064.5h0M1071.5 1064.5h0M1073 1063.5h0M1075 1064.5h0M1076.5 1064.5h0M1078 1067.5h0M1079.5 1064.5h0M1081 1066h0M1091 1066h0M1092.5 1064.5h0M1094 1066h0M1095.5 1062h0M1097.5 1064.5h0M1099 1065.5h0M1100.5 1062h0M1102 1063h0M1104 1065.5h0M1105.5 1064h0M1107 1063h0M1108.5 1064h0M1110 1064h0M1112 1065h0M1113.5 1065h0M1115 1064h0M1116.5 1063.5h0M1118.5 1064.5h0M1120 1066h0M1121.5 1064.5h0M1123 1065h0M1124.5 1064h0M1126.5 1063h0M1128 1063.5h0M1129.5 1065h0M1131 1064.5h0M1133 1063h0M1134.5 1062.5h0M1136 1064.5h0M1137.5 1064h0M1139 1064h0M1141 1064h0M1142.5 1064.5h0M1144 1064.5h0M1145.5 1065h0M1147.5 1065h0M1149 1065.5h0M1150.5 1065h0M1152 1063.5h0M1153.5 1064h0M1155.5 1064.5h0M1157 1063.5h0M1158.5 1064.5h0M1160 1065h0M1162 1061h0M1163.5 1058.5h0M1165 1060h0M1166.5 1057.5h0M1168.5 1058.5h0M1170 1056h0M1171.5 1059.5h0M1173 1058.5h0M1174.5 1057.5h0M1176.5 1057h0M1178 1057.5h0M1179.5 1057.5h0M1181 1057h0M1183 1056.5h0M1184.5 1059h0M1186 1057.5h0M1187.5 1057.5h0M1189 1057.5h0M1191 1055h0M1192.5 1058h0M1194 1057h0M1195.5 1057h0M1197.5 1057.5h0M1199 1056.5h0M1200.5 1058.5h0M1202 1056.5h0M1203.5 1056.5h0M1205.5 1056.5h0M1207 1057.5h0M1208.5 1058.5h0M1210 1057h0M1212 1056h0M1213.5 1058.5h0M1215 1056.5h0M1216.5 1060h0M1218 1060h0M1220 1060.5h0M1221.5 1061h0M1223 1062h0M1224.5 1062.5h0M1226.5 1061.5h0M1228 1062.5h0M1229.5 1064h0M1231 1061.5h0M1232.5 1060.5h0M1234.5 1060.5h0M1236 1060.5h0M1237.5 1061h0M1239 1061h0M1241 1060.5h0M1242.5 1062.5h0M1244 1059h0M1252 1063.5h0M1253.5 1067h0M1255.5 1065.5h0M1257 1064.5h0M1258.5 1064h0M1260 1065.5h0M1262 1063.5h0M1263.5 1063h0M1265 1061h0M1266.5 1062h0M1268 1061h0M1270 1060.5h0M1271.5 1060.5h0M761 1159h0M844 1165.5h0M855 1158h0M1138 1189.5h0" stroke="#8e8e8e" stroke-width="7.0" stroke-linecap="round" fill="none"/>
<path d="M718.5 1087.5h0M720 1086h0M721.5 1086h0M723.5 1083.5h0M725 1085h0M726.5 1087h0M728 1085h0M730 1086.5h0M731.5 1086h0M733 1086.5h0M734.5 1086h0M736 1083.5h0M738 1084.5h0M739.5 1084.5h0M741 1083h0M742.5 1084.5h0M744.5 1083.5h0M746 1083h0M747.5 1085h0M749 1085h0M750.5 1084h0M752.5 1084h0M754 1084.5h0M755.5 1084.5h0M757 1084.5h0M759 1085h0M760.5 1084.5h0M762 1085h0M763.5 1085.5h0M765 1085h0M767 1084h0M768.5 1084h0M770 1085.5h0M771.5 1084.5h0M773.5 1084.5h0M775 1082h0M776.5 1082h0M778 1085h0M780 1085h0M781.5 1086.5h0M783 1085.5h0M784.5 1085h0M786 1084.5h0M788 1083h0M789.5 1085.5h0M791 1084h0M792.5 1085h0M794.5 1085h0M796 1085h0M797.5 1085.5h0M799 1084h0M800.5 1084h0M802.5 1083.5h0M804 1084h0M805.5 1086.5h0M807 1084h0M809 1086h0M810.5 1085.5h0M812 1085.5h0M813.5 1085.5h0M815 1083.5h0M817 1085h0M818.5 1086.5h0M820 1084h0M821.5 1084.5h0M823.5 1084h0M825 1085h0M826.5 1083.5h0M828 1086.5h0M829.5 1084h0M831.5 1083h0M833 1086.5h0M834.5 1085.5h0M836 1085h0M838 1085h0M839.5 1084h0M841 1084h0M842.5 1085h0M844 1085h0M846 1085h0M847.5 1084.5h0M849 1083.5h0M850.5 1084h0M852.5 1085.5h0M854 1085.5h0M855.5 1083.5h0M857 1083.5h0M858.5 1085.5h0M860.5 1084.5h0M862 1084.5h0M863.5 1082.5h0M865 1083.5h0M867 1083h0M868.5 1084h0M870 1082h0M871.5 1085h0M873.5 1084h0M875 1084h0M876.5 1082.5h0M878 1083.5h0M879.5 1085h0M881.5 1082.5h0M883 1085.5h0M884.5 1086.5h0M886 1085.5h0M888 1085.5h0M889.5 1083h0M891 1083h0M892.5 1081h0M894 1080.5h0M896 1082.5h0M897.5 1081h0M899 1081.5h0M900.5 1078.5h0M902.5 1079h0M904 1080.5h0M905.5 1080.5h0M907 1079h0M908.5 1080h0M910.5 1077.5h0M912 1079h0M913.5 1077.5h0M915 1079h0M917 1078h0M918.5 1077.5h0M920 1078h0M921.5 1080h0M923 1077h0M925 1077.5h0M926.5 1079h0M928 1077.5h0M929.5 1080h0M931.5 1078h0M933 1078h0M934.5 1078.5h0M936 1080h0M937.5 1078.5h0M939.5 1078.5h0M941 1078.5h0M942.5 1076.5h0M944 1077h0M946 1079.5h0M947.5 1079h0M949 1078.5h0M950.5 1078.5h0M952 1077.5h0M954 1078.5h0M955.5 1077h0M957 1078.5h0M958.5 1077h0M960.5 1078h0M962 1079.5h0M963.5 1079h0M965 1081h0M967 1081h0M968.5 1081.5h0M970 1083.5h0M971.5 1080.5h0M973 1080.5h0M975 1083h0M976.5 1083.5h0M978 1084.5h0M979.5 1083.5h0M981.5 1083.5h0M983 1082h0M984.5 1084h0M986 1084h0M987.5 1082h0M989.5 1082.5h0M991 1083.5h0M992.5 1084h0M994 1080.5h0M996 1084h0M997.5 1084h0M999 1083.5h0M1000.5 1084.5h0M1002 1084.5h0M1004 1083h0M1005.5 1084.5h0M1007 1084h0M1008.5 1083h0M1010.5 1084.5h0M1012 1086h0M1013.5 1082.5h0M1015 1082.5h0M1016.5 1082.5h0M1018.5 1086.5h0M1020 1084h0M1021.5 1084.5h0M1023 1083.5h0M1025 1083.5h0M1026.5 1082.5h0M1028 1085h0M1029.5 1085h0M1031 1082.5h0M1033 1083.5h0M1034.5 1084h0M1036 1085h0M1037.5 1085h0M1039.5 1086h0M1041 1086.5h0M1042.5 1086h0M1044 1086.5h0M1045.5 1084h0M1047.5 1084.5h0M1049 1086.5h0M1050.5 1085.5h0M1052 1085.5h0M1054 1083h0M1055.5 1083.5h0M1057 1086h0M1058.5 1086h0M1065 1085h0M1066.5 1085h0M1068.5 1083.5h0M1070 1086h0M1071.5 1086.5h0M1073 1087.5h0M1075 1085.5h0M1076.5 1085.5h0M1078 1084.5h0M1079.5 1087h0M1081 1087.5h0M1091 1085h0M1092.5 1086h0M1094 1085.5h0M1095.5 1085h0M1097.5 1083h0M1099 1085h0M1100.5 1086h0M1102 1084h0M1104 1084.5h0M1105.5 1082h0M1107 1087h0M1108.5 1086h0M1110 1085.5h0M1112 1085h0M1113.5 1085h0M1115 1085.5h0M1116.5 1085h0M1118.5 1085h0M1120 1085.5h0M1121.5 1085.5h0M1123 1087h0M1124.5 1084h0M1126.5 1086h0M1128 1085h0M1129.5 1084h0M1131 1083h0M1133 1086h0M1134.5 1084.5h0M1136 1084.5h0M1137.5 1086h0M1139 1084.5h0M1141 1085.5h0M1142.5 1085.5h0M1144 1086.5h0M1145.5 1086.5h0M1147.5 1084.5h0M1149 1086.5h0M1150.5 1085.5h0M1152 1085.5h0M1153.5 1085.5h0M1155.5 1086.5h0M1157 1084h0M1158.5 1086h0M1160 1086.5h0M1162 1084h0M1163.5 1085h0M1165 1081h0M1166.5 1081h0M1168.5 1080.5h0M1170 1080.5h0M1171.5 1080h0M1173 1080.5h0M1174.5 1081h0M1176.5 1080h0M1178 1082h0M1179.5 1082.5h0M1181 1079.5h0M1183 1082h0M1184.5 1081h0M1186 1081.5h0M1187.5 1083.5h0M1189 1082.5h0M1191 1081.5h0M1192.5 1081h0M1194 1078.5h0M1195.5 1082h0M1197.5 1080h0M1199 1081h0M1200.5 1081h0M1202 1082h0M1203.5 1083h0M1205.5 1082h0M1207 1082.5h0M1208.5 1080.5h0M1210 1081.5h0M1212 1082h0M1213.5 1079.5h0M1215 1083h0M1216.5 1080h0M1218 1079.5h0M1220 1083h0M1221.5 1083.5h0M1223 1080h0M1224.5 1080.5h0M1226.5 1084.5h0M1228 1081h0M1229.5 1079h0M1231 1080.5h0M1232.5 1083h0M1234.5 1081.5h0M1236 1082h0M1237.5 1082.5h0M1239 1081.5h0M1241 1080.5h0M1242.5 1079h0M1244 1081.5h0M1252 1085.5h0M1253.5 1086.5h0M1255.5 1088h0M1257 1086.5h0M1258.5 1086h0M1260 1086h0M1262 1086.5h0M1263.5 1086.5h0M1265 1084h0M1266.5 1085h0M1268 1087h0M1270 1085.5h0M1271.5 1083.5h0M761 1167h0M844 1177h0M855 1168h0M1138 1196.5h0" stroke="#00ff00" stroke-width="7.0" stroke-linecap="round" fill="none"/>
<rect x="1268" y="1246" width="40" height="1" fill="#00ff00"/>
<g class="wm">
<text x="913.71" y="1160.36" font-size="125" textLength="49.59" lengthAdjust="spacingAndGlyphs" fill="#c9c9c9">I</text>
<text x="961.05" y="1160.36" font-size="125" textLength="94.78" lengthAdjust="spacingAndGlyphs" fill="#c9c9c9">G</text>
<text x="1054.71" y="1160.36" font-size="125" textLength="86.88" lengthAdjust="spacingAndGlyphs" fill="#c9c9c9">N</text>
<text x="908.71" y="1155.36" font-size="125" textLength="49.59" lengthAdjust="spacingAndGlyphs" fill="#ededed" stroke="#cfcfcf" stroke-width="1.2">I</text>
<text x="956.05" y="1155.36" font-size="125" textLength="94.78" lengthAdjust="spacingAndGlyphs" fill="#ededed" stroke="#cfcfcf" stroke-width="1.2">G</text>
<text x="1049.71" y="1155.36" font-size="125" textLength="86.88" lengthAdjust="spacingAndGlyphs" fill="#ededed" stroke="#cfcfcf" stroke-width="1.2">N</text>
</g>
<rect x="718" y="951" width="1" height="296" fill="#000"/>
<rect x="714" y="1048" width="594" height="1" fill="#000"/>
<rect x="714" y="1048" width="3" height="2" fill="#000"/>
<rect x="1305" y="1048" width="3" height="2" fill="#000"/>
<rect x="714" y="1148" width="594" height="1" fill="#000"/>
<rect x="714" y="1148" width="3" height="2" fill="#000"/>
<rect x="1305" y="1148" width="3" height="2" fill="#000"/>
<rect x="766" y="1244" width="2" height="3" fill="#000"/>
<rect x="766" y="951" width="2" height="3" fill="#000"/>
<rect x="815" y="1244" width="2" height="3" fill="#000"/>
<rect x="815" y="951" width="2" height="3" fill="#000"/>
<rect x="865" y="1244" width="2" height="3" fill="#000"/>
<rect x="865" y="951" width="2" height="3" fill="#000"/>
<rect x="914" y="1244" width="2" height="3" fill="#000"/>
<rect x="914" y="951" width="2" height="3" fill="#000"/>
<rect x="963" y="1244" width="2" height="3" fill="#000"/>
<rect x="963" y="951" width="2" height="3" fill="#000"/>
<rect x="1012" y="1244" width="2" height="3" fill="#000"/>
<rect x="1012" y="951" width="2" height="3" fill="#000"/>
<rect x="1061" y="1244" width="2" height="3" fill="#000"/>
<rect x="1061" y="951" width="2" height="3" fill="#000"/>
<rect x="1110" y="1244" width="2" height="3" fill="#000"/>
<rect x="1110" y="951" width="2" height="3" fill="#000"/>
<rect x="1159" y="1244" width="2" height="3" fill="#000"/>
<rect x="1159" y="951" width="2" height="3" fill="#000"/>
<rect x="1209" y="1244" width="2" height="3" fill="#000"/>
<rect x="1209" y="951" width="2" height="3" fill="#000"/>
<rect x="1258" y="1244" width="2" height="3" fill="#000"/>
<rect x="1258" y="951" width="2" height="3" fill="#000"/>
<rect x="709" y="947" width="5" height="304" fill="#000"/>
<rect x="709" y="947" width="605" height="4" fill="#000"/>
<rect x="1308" y="947" width="6" height="304" fill="#000"/>
<rect x="709" y="1247" width="605" height="4" fill="#000"/>
<rect x="1217.5" y="974.5" width="13" height="13" fill="#8e8e8e" stroke="#000" stroke-width="1"/>
<rect x="1217.5" y="1001.5" width="13" height="13" fill="#00ff00" stroke="#000" stroke-width="1"/>
<text x="1232.86" y="982.70" font-size="13.6" textLength="61.64" lengthAdjust="spacingAndGlyphs">Predichas</text>
<text x="1233.35" y="1009.50" font-size="13.6" textLength="74.05" lengthAdjust="spacingAndGlyphs">Observadas</text>
<g font-family="Liberation Sans">
<text x="730.50" y="1266.00" font-size="14.3" textLength="23.66" lengthAdjust="spacingAndGlyphs">Ene</text>
<text x="780.03" y="1266.00" font-size="14.3" textLength="22.92" lengthAdjust="spacingAndGlyphs">Feb</text>
<text x="829.03" y="1266.00" font-size="14.3" textLength="22.90" lengthAdjust="spacingAndGlyphs">Mar</text>
<text x="879.83" y="1266.00" font-size="14.3" textLength="20.70" lengthAdjust="spacingAndGlyphs">Abr</text>
<text x="926.16" y="1266.00" font-size="14.3" textLength="25.12" lengthAdjust="spacingAndGlyphs">May</text>
<text x="978.02" y="1266.00" font-size="14.3" textLength="21.44" lengthAdjust="spacingAndGlyphs">Jun</text>
<text x="1029.42" y="1266.00" font-size="14.3" textLength="17.00" lengthAdjust="spacingAndGlyphs">Jul</text>
<text x="1075.18" y="1266.00" font-size="14.3" textLength="23.66" lengthAdjust="spacingAndGlyphs">Ago</text>
<text x="1124.06" y="1266.00" font-size="14.3" textLength="23.66" lengthAdjust="spacingAndGlyphs">Sep</text>
<text x="1174.47" y="1266.00" font-size="14.3" textLength="20.69" lengthAdjust="spacingAndGlyphs">Oct</text>
<text x="1221.90" y="1266.00" font-size="14.3" textLength="23.65" lengthAdjust="spacingAndGlyphs">Nov</text>
<text x="1273.44" y="1266.00" font-size="14.3" textLength="19.21" lengthAdjust="spacingAndGlyphs">Dic</text>
<text x="697.93" y="1285.60" font-size="19.2" textLength="42.82" lengthAdjust="spacingAndGlyphs">2020</text>
<text x="1282.08" y="1285.60" font-size="19.2" textLength="40.82" lengthAdjust="spacingAndGlyphs">2021</text>
</g>
<g font-family="Liberation Sans">
<text x="1319.89" y="956.70" font-size="22" textLength="24.47" lengthAdjust="spacingAndGlyphs">90</text>
<text x="1319.89" y="1056.70" font-size="22" textLength="24.47" lengthAdjust="spacingAndGlyphs">60</text>
<text x="1319.89" y="1156.70" font-size="22" textLength="24.47" lengthAdjust="spacingAndGlyphs">30</text>
<text x="1332.12" y="1256.70" font-size="22" textLength="12.24" lengthAdjust="spacingAndGlyphs">0</text>
</g>
<g transform="translate(1372.00,1258.90) rotate(-90)"><text x="-1.80" y="0.00" font-size="23.2" textLength="323.56" lengthAdjust="spacingAndGlyphs">Número de observaciones / 1000</text></g>
<text x="944.90" y="1307.80" font-size="22.3" textLength="133.57" lengthAdjust="spacingAndGlyphs">Tiempo [Mes]</text>
</svg>
</body></html>
